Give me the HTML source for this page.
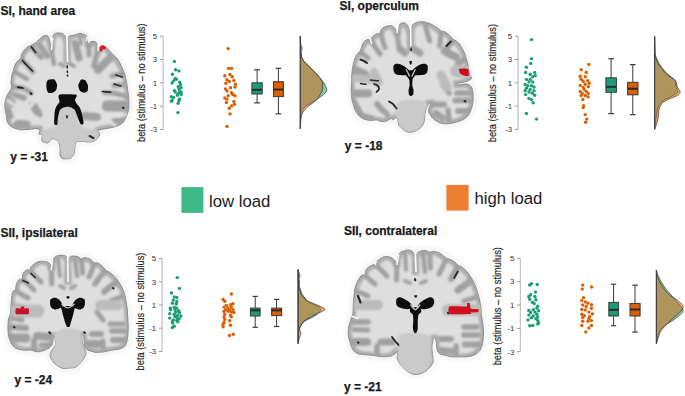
<!DOCTYPE html>
<html><head><meta charset="utf-8"><style>
html,body{margin:0;padding:0;background:#fff;width:685px;height:396px;overflow:hidden}
svg{position:absolute;left:0;top:0;font-family:"Liberation Sans",sans-serif}
.t{position:absolute;font-family:"Liberation Sans",sans-serif;white-space:nowrap;color:#1a1a1a;line-height:1}
.b{font-weight:bold;font-size:12px}
</style></head><body>
<svg width="685" height="396" viewBox="0 0 685 396">
<defs>
<filter id="erode" filterUnits="userSpaceOnUse" x="0" y="0" width="685" height="396"><feMorphology operator="erode" radius="2.6"/><feGaussianBlur stdDeviation="1.2"/></filter>
<filter id="soft" filterUnits="userSpaceOnUse" x="0" y="0" width="685" height="396"><feGaussianBlur stdDeviation="0.5"/></filter>
<filter id="soft2" filterUnits="userSpaceOnUse" x="0" y="0" width="685" height="396"><feGaussianBlur stdDeviation="0.85"/></filter>
<filter id="soft3" filterUnits="userSpaceOnUse" x="0" y="0" width="685" height="396"><feGaussianBlur stdDeviation="1.6"/></filter>
</defs>
<clipPath id="cp0"><path d="M66.5,61.0 C66.3,59.5 66.5,52.5 66.5,50.0 C66.5,47.5 66.6,43.6 66.5,42.0 C66.4,40.4 66.3,39.0 66.0,38.0 C65.7,37.0 64.8,35.4 64.0,34.7 C63.2,34.0 60.9,33.2 59.8,33.0 C58.7,32.8 56.6,33.0 55.7,33.3 C54.8,33.6 53.7,34.5 53.2,35.5 C52.7,36.5 52.5,38.8 52.3,40.5 C52.1,42.2 51.8,47.9 51.5,48.0 C51.2,48.1 50.2,42.9 49.8,41.3 C49.4,39.7 48.9,37.1 48.2,36.3 C47.5,35.5 45.7,35.4 44.8,35.5 C43.9,35.6 42.3,36.6 41.5,37.2 C40.7,37.8 39.7,39.0 39.0,39.7 C38.3,40.4 37.2,41.7 36.5,42.2 C35.8,42.7 34.8,43.4 34.0,43.8 C33.2,44.2 31.6,45.0 30.7,45.5 C29.8,46.0 28.2,46.5 27.3,47.2 C26.4,47.9 24.8,49.5 24.0,50.5 C23.2,51.5 21.9,53.6 21.5,54.7 C21.1,55.8 21.1,58.0 20.7,58.8 C20.3,59.6 18.9,59.8 18.2,60.5 C17.5,61.2 16.3,62.8 15.7,63.8 C15.1,64.8 14.3,67.0 14.0,68.0 C13.7,69.0 13.5,70.5 13.2,71.3 C12.9,72.1 12.2,72.9 12.0,73.8 C11.8,74.7 11.6,76.8 11.5,78.0 C11.4,79.2 11.0,81.9 11.0,83.0 C11.0,84.1 11.5,85.4 11.5,86.3 C11.5,87.2 11.1,88.8 10.7,89.7 C10.3,90.6 9.0,92.3 8.5,93.0 C8.0,93.7 7.5,94.3 7.1,95.3 C6.7,96.3 5.6,98.9 5.3,100.6 C5.0,102.3 4.8,105.8 4.9,107.7 C5.0,109.6 5.9,112.9 6.2,114.7 C6.5,116.5 6.6,119.5 7.1,120.9 C7.6,122.3 8.8,124.5 9.7,125.4 C10.6,126.3 12.6,127.4 14.1,128.0 C15.6,128.6 19.1,129.6 21.2,129.8 C23.3,130.0 27.9,129.4 30.0,129.2 C32.1,129.0 35.8,128.3 37.1,128.5 C38.4,128.7 39.6,129.9 39.8,130.7 C40.0,131.5 38.6,133.6 38.9,134.2 C39.2,134.8 42.1,134.4 42.4,135.1 C42.7,135.8 41.4,138.6 41.5,139.5 C41.6,140.4 42.5,141.6 43.3,142.1 C44.1,142.6 46.8,143.2 47.7,143.0 C48.6,142.8 49.7,141.0 50.4,140.4 C51.1,139.8 51.9,138.5 53.0,138.6 C54.1,138.7 57.4,140.0 58.3,141.3 C59.2,142.6 59.9,146.5 60.1,148.3 C60.3,150.1 59.8,153.7 60.1,155.0 C60.4,156.3 61.3,157.8 62.0,158.3 C62.7,158.8 64.2,158.9 65.3,158.9 C66.4,158.9 69.4,158.8 70.6,158.1 C71.8,157.4 73.5,155.1 74.1,153.6 C74.7,152.1 74.8,148.1 75.0,146.6 C75.2,145.1 74.8,142.8 75.9,142.1 C77.0,141.4 81.3,141.3 83.0,141.3 C84.7,141.3 86.9,142.1 88.3,142.1 C89.7,142.1 92.4,141.8 93.6,141.3 C94.8,140.8 96.3,139.5 97.1,138.6 C97.9,137.7 99.7,135.3 99.8,134.2 C99.9,133.1 97.7,131.4 98.0,130.7 C98.3,130.0 100.9,129.6 102.4,129.2 C103.9,128.8 107.6,128.4 109.5,128.0 C111.4,127.6 114.8,126.9 116.6,126.2 C118.4,125.5 121.5,124.0 122.8,122.7 C124.1,121.4 125.5,118.3 126.3,116.5 C127.1,114.7 128.3,111.5 128.6,109.4 C128.9,107.3 128.9,102.5 128.9,100.6 C128.9,98.7 128.7,96.2 128.6,95.0 C128.5,93.8 128.0,92.7 127.8,91.3 C127.6,89.9 127.3,86.5 127.0,84.7 C126.7,82.9 126.1,79.6 125.7,78.0 C125.3,76.4 124.8,74.3 124.3,73.0 C123.8,71.7 122.9,69.3 122.3,68.0 C121.7,66.7 120.5,64.2 119.8,63.0 C119.1,61.8 118.1,59.8 117.3,58.8 C116.5,57.8 114.9,56.4 114.0,55.5 C113.1,54.6 111.5,53.1 110.7,52.2 C109.9,51.3 108.5,49.6 107.7,48.8 C106.9,48.0 105.6,46.7 104.8,46.3 C104.0,45.9 102.2,45.4 101.5,45.5 C100.8,45.6 100.2,46.6 99.8,47.2 C99.4,47.8 98.5,50.0 98.2,49.7 C97.9,49.4 97.6,45.7 97.3,44.7 C97.0,43.7 96.4,42.7 95.7,42.2 C95.0,41.7 93.1,41.3 92.3,41.3 C91.5,41.3 90.5,42.0 90.0,42.5 C89.5,43.0 88.8,45.3 88.5,45.0 C88.2,44.7 87.6,41.3 87.5,40.5 C87.4,39.7 87.7,39.3 87.7,38.8 C87.7,38.3 87.7,37.2 87.3,36.7 C86.9,36.2 85.7,35.2 84.8,34.7 C83.9,34.2 81.6,33.4 80.7,33.3 C79.8,33.2 79.0,33.6 78.2,33.8 C77.4,34.0 75.8,34.8 74.8,35.0 C73.8,35.2 71.6,35.2 70.7,35.5 C69.8,35.8 68.6,36.3 68.2,37.2 C67.8,38.1 67.9,40.3 67.8,42.0 C67.7,43.7 67.8,47.5 67.8,50.0 C67.8,52.5 68.0,59.5 67.8,61.0 C67.6,62.5 66.7,62.5 66.5,61.0 Z"/></clipPath>
<path d="M66.5,61.0 C66.3,59.5 66.5,52.5 66.5,50.0 C66.5,47.5 66.6,43.6 66.5,42.0 C66.4,40.4 66.3,39.0 66.0,38.0 C65.7,37.0 64.8,35.4 64.0,34.7 C63.2,34.0 60.9,33.2 59.8,33.0 C58.7,32.8 56.6,33.0 55.7,33.3 C54.8,33.6 53.7,34.5 53.2,35.5 C52.7,36.5 52.5,38.8 52.3,40.5 C52.1,42.2 51.8,47.9 51.5,48.0 C51.2,48.1 50.2,42.9 49.8,41.3 C49.4,39.7 48.9,37.1 48.2,36.3 C47.5,35.5 45.7,35.4 44.8,35.5 C43.9,35.6 42.3,36.6 41.5,37.2 C40.7,37.8 39.7,39.0 39.0,39.7 C38.3,40.4 37.2,41.7 36.5,42.2 C35.8,42.7 34.8,43.4 34.0,43.8 C33.2,44.2 31.6,45.0 30.7,45.5 C29.8,46.0 28.2,46.5 27.3,47.2 C26.4,47.9 24.8,49.5 24.0,50.5 C23.2,51.5 21.9,53.6 21.5,54.7 C21.1,55.8 21.1,58.0 20.7,58.8 C20.3,59.6 18.9,59.8 18.2,60.5 C17.5,61.2 16.3,62.8 15.7,63.8 C15.1,64.8 14.3,67.0 14.0,68.0 C13.7,69.0 13.5,70.5 13.2,71.3 C12.9,72.1 12.2,72.9 12.0,73.8 C11.8,74.7 11.6,76.8 11.5,78.0 C11.4,79.2 11.0,81.9 11.0,83.0 C11.0,84.1 11.5,85.4 11.5,86.3 C11.5,87.2 11.1,88.8 10.7,89.7 C10.3,90.6 9.0,92.3 8.5,93.0 C8.0,93.7 7.5,94.3 7.1,95.3 C6.7,96.3 5.6,98.9 5.3,100.6 C5.0,102.3 4.8,105.8 4.9,107.7 C5.0,109.6 5.9,112.9 6.2,114.7 C6.5,116.5 6.6,119.5 7.1,120.9 C7.6,122.3 8.8,124.5 9.7,125.4 C10.6,126.3 12.6,127.4 14.1,128.0 C15.6,128.6 19.1,129.6 21.2,129.8 C23.3,130.0 27.9,129.4 30.0,129.2 C32.1,129.0 35.8,128.3 37.1,128.5 C38.4,128.7 39.6,129.9 39.8,130.7 C40.0,131.5 38.6,133.6 38.9,134.2 C39.2,134.8 42.1,134.4 42.4,135.1 C42.7,135.8 41.4,138.6 41.5,139.5 C41.6,140.4 42.5,141.6 43.3,142.1 C44.1,142.6 46.8,143.2 47.7,143.0 C48.6,142.8 49.7,141.0 50.4,140.4 C51.1,139.8 51.9,138.5 53.0,138.6 C54.1,138.7 57.4,140.0 58.3,141.3 C59.2,142.6 59.9,146.5 60.1,148.3 C60.3,150.1 59.8,153.7 60.1,155.0 C60.4,156.3 61.3,157.8 62.0,158.3 C62.7,158.8 64.2,158.9 65.3,158.9 C66.4,158.9 69.4,158.8 70.6,158.1 C71.8,157.4 73.5,155.1 74.1,153.6 C74.7,152.1 74.8,148.1 75.0,146.6 C75.2,145.1 74.8,142.8 75.9,142.1 C77.0,141.4 81.3,141.3 83.0,141.3 C84.7,141.3 86.9,142.1 88.3,142.1 C89.7,142.1 92.4,141.8 93.6,141.3 C94.8,140.8 96.3,139.5 97.1,138.6 C97.9,137.7 99.7,135.3 99.8,134.2 C99.9,133.1 97.7,131.4 98.0,130.7 C98.3,130.0 100.9,129.6 102.4,129.2 C103.9,128.8 107.6,128.4 109.5,128.0 C111.4,127.6 114.8,126.9 116.6,126.2 C118.4,125.5 121.5,124.0 122.8,122.7 C124.1,121.4 125.5,118.3 126.3,116.5 C127.1,114.7 128.3,111.5 128.6,109.4 C128.9,107.3 128.9,102.5 128.9,100.6 C128.9,98.7 128.7,96.2 128.6,95.0 C128.5,93.8 128.0,92.7 127.8,91.3 C127.6,89.9 127.3,86.5 127.0,84.7 C126.7,82.9 126.1,79.6 125.7,78.0 C125.3,76.4 124.8,74.3 124.3,73.0 C123.8,71.7 122.9,69.3 122.3,68.0 C121.7,66.7 120.5,64.2 119.8,63.0 C119.1,61.8 118.1,59.8 117.3,58.8 C116.5,57.8 114.9,56.4 114.0,55.5 C113.1,54.6 111.5,53.1 110.7,52.2 C109.9,51.3 108.5,49.6 107.7,48.8 C106.9,48.0 105.6,46.7 104.8,46.3 C104.0,45.9 102.2,45.4 101.5,45.5 C100.8,45.6 100.2,46.6 99.8,47.2 C99.4,47.8 98.5,50.0 98.2,49.7 C97.9,49.4 97.6,45.7 97.3,44.7 C97.0,43.7 96.4,42.7 95.7,42.2 C95.0,41.7 93.1,41.3 92.3,41.3 C91.5,41.3 90.5,42.0 90.0,42.5 C89.5,43.0 88.8,45.3 88.5,45.0 C88.2,44.7 87.6,41.3 87.5,40.5 C87.4,39.7 87.7,39.3 87.7,38.8 C87.7,38.3 87.7,37.2 87.3,36.7 C86.9,36.2 85.7,35.2 84.8,34.7 C83.9,34.2 81.6,33.4 80.7,33.3 C79.8,33.2 79.0,33.6 78.2,33.8 C77.4,34.0 75.8,34.8 74.8,35.0 C73.8,35.2 71.6,35.2 70.7,35.5 C69.8,35.8 68.6,36.3 68.2,37.2 C67.8,38.1 67.9,40.3 67.8,42.0 C67.7,43.7 67.8,47.5 67.8,50.0 C67.8,52.5 68.0,59.5 67.8,61.0 C67.6,62.5 66.7,62.5 66.5,61.0 Z" fill="none" stroke="#f6f6f6" stroke-width="9" filter="url(#soft3)"/>
<path d="M66.5,61.0 C66.3,59.5 66.5,52.5 66.5,50.0 C66.5,47.5 66.6,43.6 66.5,42.0 C66.4,40.4 66.3,39.0 66.0,38.0 C65.7,37.0 64.8,35.4 64.0,34.7 C63.2,34.0 60.9,33.2 59.8,33.0 C58.7,32.8 56.6,33.0 55.7,33.3 C54.8,33.6 53.7,34.5 53.2,35.5 C52.7,36.5 52.5,38.8 52.3,40.5 C52.1,42.2 51.8,47.9 51.5,48.0 C51.2,48.1 50.2,42.9 49.8,41.3 C49.4,39.7 48.9,37.1 48.2,36.3 C47.5,35.5 45.7,35.4 44.8,35.5 C43.9,35.6 42.3,36.6 41.5,37.2 C40.7,37.8 39.7,39.0 39.0,39.7 C38.3,40.4 37.2,41.7 36.5,42.2 C35.8,42.7 34.8,43.4 34.0,43.8 C33.2,44.2 31.6,45.0 30.7,45.5 C29.8,46.0 28.2,46.5 27.3,47.2 C26.4,47.9 24.8,49.5 24.0,50.5 C23.2,51.5 21.9,53.6 21.5,54.7 C21.1,55.8 21.1,58.0 20.7,58.8 C20.3,59.6 18.9,59.8 18.2,60.5 C17.5,61.2 16.3,62.8 15.7,63.8 C15.1,64.8 14.3,67.0 14.0,68.0 C13.7,69.0 13.5,70.5 13.2,71.3 C12.9,72.1 12.2,72.9 12.0,73.8 C11.8,74.7 11.6,76.8 11.5,78.0 C11.4,79.2 11.0,81.9 11.0,83.0 C11.0,84.1 11.5,85.4 11.5,86.3 C11.5,87.2 11.1,88.8 10.7,89.7 C10.3,90.6 9.0,92.3 8.5,93.0 C8.0,93.7 7.5,94.3 7.1,95.3 C6.7,96.3 5.6,98.9 5.3,100.6 C5.0,102.3 4.8,105.8 4.9,107.7 C5.0,109.6 5.9,112.9 6.2,114.7 C6.5,116.5 6.6,119.5 7.1,120.9 C7.6,122.3 8.8,124.5 9.7,125.4 C10.6,126.3 12.6,127.4 14.1,128.0 C15.6,128.6 19.1,129.6 21.2,129.8 C23.3,130.0 27.9,129.4 30.0,129.2 C32.1,129.0 35.8,128.3 37.1,128.5 C38.4,128.7 39.6,129.9 39.8,130.7 C40.0,131.5 38.6,133.6 38.9,134.2 C39.2,134.8 42.1,134.4 42.4,135.1 C42.7,135.8 41.4,138.6 41.5,139.5 C41.6,140.4 42.5,141.6 43.3,142.1 C44.1,142.6 46.8,143.2 47.7,143.0 C48.6,142.8 49.7,141.0 50.4,140.4 C51.1,139.8 51.9,138.5 53.0,138.6 C54.1,138.7 57.4,140.0 58.3,141.3 C59.2,142.6 59.9,146.5 60.1,148.3 C60.3,150.1 59.8,153.7 60.1,155.0 C60.4,156.3 61.3,157.8 62.0,158.3 C62.7,158.8 64.2,158.9 65.3,158.9 C66.4,158.9 69.4,158.8 70.6,158.1 C71.8,157.4 73.5,155.1 74.1,153.6 C74.7,152.1 74.8,148.1 75.0,146.6 C75.2,145.1 74.8,142.8 75.9,142.1 C77.0,141.4 81.3,141.3 83.0,141.3 C84.7,141.3 86.9,142.1 88.3,142.1 C89.7,142.1 92.4,141.8 93.6,141.3 C94.8,140.8 96.3,139.5 97.1,138.6 C97.9,137.7 99.7,135.3 99.8,134.2 C99.9,133.1 97.7,131.4 98.0,130.7 C98.3,130.0 100.9,129.6 102.4,129.2 C103.9,128.8 107.6,128.4 109.5,128.0 C111.4,127.6 114.8,126.9 116.6,126.2 C118.4,125.5 121.5,124.0 122.8,122.7 C124.1,121.4 125.5,118.3 126.3,116.5 C127.1,114.7 128.3,111.5 128.6,109.4 C128.9,107.3 128.9,102.5 128.9,100.6 C128.9,98.7 128.7,96.2 128.6,95.0 C128.5,93.8 128.0,92.7 127.8,91.3 C127.6,89.9 127.3,86.5 127.0,84.7 C126.7,82.9 126.1,79.6 125.7,78.0 C125.3,76.4 124.8,74.3 124.3,73.0 C123.8,71.7 122.9,69.3 122.3,68.0 C121.7,66.7 120.5,64.2 119.8,63.0 C119.1,61.8 118.1,59.8 117.3,58.8 C116.5,57.8 114.9,56.4 114.0,55.5 C113.1,54.6 111.5,53.1 110.7,52.2 C109.9,51.3 108.5,49.6 107.7,48.8 C106.9,48.0 105.6,46.7 104.8,46.3 C104.0,45.9 102.2,45.4 101.5,45.5 C100.8,45.6 100.2,46.6 99.8,47.2 C99.4,47.8 98.5,50.0 98.2,49.7 C97.9,49.4 97.6,45.7 97.3,44.7 C97.0,43.7 96.4,42.7 95.7,42.2 C95.0,41.7 93.1,41.3 92.3,41.3 C91.5,41.3 90.5,42.0 90.0,42.5 C89.5,43.0 88.8,45.3 88.5,45.0 C88.2,44.7 87.6,41.3 87.5,40.5 C87.4,39.7 87.7,39.3 87.7,38.8 C87.7,38.3 87.7,37.2 87.3,36.7 C86.9,36.2 85.7,35.2 84.8,34.7 C83.9,34.2 81.6,33.4 80.7,33.3 C79.8,33.2 79.0,33.6 78.2,33.8 C77.4,34.0 75.8,34.8 74.8,35.0 C73.8,35.2 71.6,35.2 70.7,35.5 C69.8,35.8 68.6,36.3 68.2,37.2 C67.8,38.1 67.9,40.3 67.8,42.0 C67.7,43.7 67.8,47.5 67.8,50.0 C67.8,52.5 68.0,59.5 67.8,61.0 C67.6,62.5 66.7,62.5 66.5,61.0 Z" fill="#adadad" stroke="#8a8a8a" stroke-width="1" filter="url(#soft)"/>
<g clip-path="url(#cp0)">
<path d="M66.5,61.0 C66.3,59.5 66.5,52.5 66.5,50.0 C66.5,47.5 66.6,43.6 66.5,42.0 C66.4,40.4 66.3,39.0 66.0,38.0 C65.7,37.0 64.8,35.4 64.0,34.7 C63.2,34.0 60.9,33.2 59.8,33.0 C58.7,32.8 56.6,33.0 55.7,33.3 C54.8,33.6 53.7,34.5 53.2,35.5 C52.7,36.5 52.5,38.8 52.3,40.5 C52.1,42.2 51.8,47.9 51.5,48.0 C51.2,48.1 50.2,42.9 49.8,41.3 C49.4,39.7 48.9,37.1 48.2,36.3 C47.5,35.5 45.7,35.4 44.8,35.5 C43.9,35.6 42.3,36.6 41.5,37.2 C40.7,37.8 39.7,39.0 39.0,39.7 C38.3,40.4 37.2,41.7 36.5,42.2 C35.8,42.7 34.8,43.4 34.0,43.8 C33.2,44.2 31.6,45.0 30.7,45.5 C29.8,46.0 28.2,46.5 27.3,47.2 C26.4,47.9 24.8,49.5 24.0,50.5 C23.2,51.5 21.9,53.6 21.5,54.7 C21.1,55.8 21.1,58.0 20.7,58.8 C20.3,59.6 18.9,59.8 18.2,60.5 C17.5,61.2 16.3,62.8 15.7,63.8 C15.1,64.8 14.3,67.0 14.0,68.0 C13.7,69.0 13.5,70.5 13.2,71.3 C12.9,72.1 12.2,72.9 12.0,73.8 C11.8,74.7 11.6,76.8 11.5,78.0 C11.4,79.2 11.0,81.9 11.0,83.0 C11.0,84.1 11.5,85.4 11.5,86.3 C11.5,87.2 11.1,88.8 10.7,89.7 C10.3,90.6 9.0,92.3 8.5,93.0 C8.0,93.7 7.5,94.3 7.1,95.3 C6.7,96.3 5.6,98.9 5.3,100.6 C5.0,102.3 4.8,105.8 4.9,107.7 C5.0,109.6 5.9,112.9 6.2,114.7 C6.5,116.5 6.6,119.5 7.1,120.9 C7.6,122.3 8.8,124.5 9.7,125.4 C10.6,126.3 12.6,127.4 14.1,128.0 C15.6,128.6 19.1,129.6 21.2,129.8 C23.3,130.0 27.9,129.4 30.0,129.2 C32.1,129.0 35.8,128.3 37.1,128.5 C38.4,128.7 39.6,129.9 39.8,130.7 C40.0,131.5 38.6,133.6 38.9,134.2 C39.2,134.8 42.1,134.4 42.4,135.1 C42.7,135.8 41.4,138.6 41.5,139.5 C41.6,140.4 42.5,141.6 43.3,142.1 C44.1,142.6 46.8,143.2 47.7,143.0 C48.6,142.8 49.7,141.0 50.4,140.4 C51.1,139.8 51.9,138.5 53.0,138.6 C54.1,138.7 57.4,140.0 58.3,141.3 C59.2,142.6 59.9,146.5 60.1,148.3 C60.3,150.1 59.8,153.7 60.1,155.0 C60.4,156.3 61.3,157.8 62.0,158.3 C62.7,158.8 64.2,158.9 65.3,158.9 C66.4,158.9 69.4,158.8 70.6,158.1 C71.8,157.4 73.5,155.1 74.1,153.6 C74.7,152.1 74.8,148.1 75.0,146.6 C75.2,145.1 74.8,142.8 75.9,142.1 C77.0,141.4 81.3,141.3 83.0,141.3 C84.7,141.3 86.9,142.1 88.3,142.1 C89.7,142.1 92.4,141.8 93.6,141.3 C94.8,140.8 96.3,139.5 97.1,138.6 C97.9,137.7 99.7,135.3 99.8,134.2 C99.9,133.1 97.7,131.4 98.0,130.7 C98.3,130.0 100.9,129.6 102.4,129.2 C103.9,128.8 107.6,128.4 109.5,128.0 C111.4,127.6 114.8,126.9 116.6,126.2 C118.4,125.5 121.5,124.0 122.8,122.7 C124.1,121.4 125.5,118.3 126.3,116.5 C127.1,114.7 128.3,111.5 128.6,109.4 C128.9,107.3 128.9,102.5 128.9,100.6 C128.9,98.7 128.7,96.2 128.6,95.0 C128.5,93.8 128.0,92.7 127.8,91.3 C127.6,89.9 127.3,86.5 127.0,84.7 C126.7,82.9 126.1,79.6 125.7,78.0 C125.3,76.4 124.8,74.3 124.3,73.0 C123.8,71.7 122.9,69.3 122.3,68.0 C121.7,66.7 120.5,64.2 119.8,63.0 C119.1,61.8 118.1,59.8 117.3,58.8 C116.5,57.8 114.9,56.4 114.0,55.5 C113.1,54.6 111.5,53.1 110.7,52.2 C109.9,51.3 108.5,49.6 107.7,48.8 C106.9,48.0 105.6,46.7 104.8,46.3 C104.0,45.9 102.2,45.4 101.5,45.5 C100.8,45.6 100.2,46.6 99.8,47.2 C99.4,47.8 98.5,50.0 98.2,49.7 C97.9,49.4 97.6,45.7 97.3,44.7 C97.0,43.7 96.4,42.7 95.7,42.2 C95.0,41.7 93.1,41.3 92.3,41.3 C91.5,41.3 90.5,42.0 90.0,42.5 C89.5,43.0 88.8,45.3 88.5,45.0 C88.2,44.7 87.6,41.3 87.5,40.5 C87.4,39.7 87.7,39.3 87.7,38.8 C87.7,38.3 87.7,37.2 87.3,36.7 C86.9,36.2 85.7,35.2 84.8,34.7 C83.9,34.2 81.6,33.4 80.7,33.3 C79.8,33.2 79.0,33.6 78.2,33.8 C77.4,34.0 75.8,34.8 74.8,35.0 C73.8,35.2 71.6,35.2 70.7,35.5 C69.8,35.8 68.6,36.3 68.2,37.2 C67.8,38.1 67.9,40.3 67.8,42.0 C67.7,43.7 67.8,47.5 67.8,50.0 C67.8,52.5 68.0,59.5 67.8,61.0 C67.6,62.5 66.7,62.5 66.5,61.0 Z" fill="#dedede" filter="url(#erode)"/>
<g filter="url(#soft3)">
</g><g filter="url(#soft2)" fill="none" stroke-linecap="round" stroke-linejoin="round">
<path d="M7.0,99.0 C7.8,99.7 11.2,102.3 12.0,103.0 " stroke="#a0a0a0" stroke-width="8"/>
<path d="M7.0,110.0 C7.5,111.3 9.5,116.7 10.0,118.0 " stroke="#a0a0a0" stroke-width="8"/>
<path d="M17.0,123.5 C18.7,123.7 25.3,124.3 27.0,124.5 " stroke="#a0a0a0" stroke-width="7.5"/>
<path d="M33.0,105.0 C33.9,106.5 37.6,112.5 38.5,114.0 " stroke="#a0a0a0" stroke-width="8"/>
<path d="M15.0,95.0 C16.5,95.5 22.5,97.5 24.0,98.0 " stroke="#a0a0a0" stroke-width="6"/>
<path d="M107.0,106.0 C109.8,106.0 121.2,106.0 124.0,106.0 " stroke="#a0a0a0" stroke-width="11"/>
<path d="M85.0,116.0 C87.0,116.2 95.0,116.8 97.0,117.0 " stroke="#a0a0a0" stroke-width="8"/>
<path d="M114.0,121.0 C115.7,121.0 122.3,121.0 124.0,121.0 " stroke="#a0a0a0" stroke-width="6"/>
<path d="M51.5,48.0 C51.7,49.3 52.1,53.3 52.5,56.0 C52.9,58.7 53.8,62.7 54.0,64.0 " stroke="#a0a0a0" stroke-width="4.5"/>
<path d="M30.7,45.5 C31.6,46.6 34.3,50.1 36.0,52.0 C37.7,53.9 40.2,56.2 41.0,57.0 " stroke="#a0a0a0" stroke-width="5.5"/>
<path d="M40.0,46.0 C40.7,46.8 42.8,49.3 44.0,51.0 C45.2,52.7 46.5,55.2 47.0,56.0 " stroke="#a0a0a0" stroke-width="6"/>
<path d="M20.7,58.8 C21.8,59.8 24.9,62.8 27.0,65.0 C29.1,67.2 32.0,70.8 33.0,72.0 " stroke="#a0a0a0" stroke-width="5"/>
<path d="M13.2,71.3 C14.3,71.9 17.7,73.7 20.0,75.0 C22.3,76.3 25.8,78.3 27.0,79.0 " stroke="#a0a0a0" stroke-width="4.5"/>
<path d="M11.5,86.3 C12.4,86.5 14.9,87.1 17.0,87.5 C19.1,87.9 21.7,87.6 24.0,88.5 C26.3,89.4 29.8,92.2 31.0,93.0 " stroke="#a0a0a0" stroke-width="5"/>
<path d="M88.5,45.0 C88.6,45.8 88.9,48.3 89.0,50.0 C89.1,51.7 89.0,54.2 89.0,55.0 " stroke="#a0a0a0" stroke-width="5"/>
<path d="M98.2,49.7 C97.8,51.1 96.7,55.3 96.0,58.0 C95.3,60.7 94.3,64.7 94.0,66.0 " stroke="#a0a0a0" stroke-width="5.5"/>
<path d="M110.0,58.0 C109.0,59.0 106.0,62.0 104.0,64.0 C102.0,66.0 99.0,69.0 98.0,70.0 " stroke="#a0a0a0" stroke-width="8"/>
<path d="M124.3,73.0 C123.2,73.2 120.0,74.0 118.0,74.5 C116.0,75.0 113.0,75.8 112.0,76.0 " stroke="#a0a0a0" stroke-width="5"/>
<path d="M127.0,84.7 C126.0,84.8 123.2,84.9 121.0,85.0 C118.8,85.1 115.2,85.4 114.0,85.5 " stroke="#a0a0a0" stroke-width="5"/>
<path d="M128.0,97.0 C126.3,96.5 121.8,94.8 118.0,94.0 C114.2,93.2 107.2,92.8 105.0,92.5 " stroke="#a0a0a0" stroke-width="5"/>
<path d="M75.0,43.0 C75.3,44.2 76.3,47.5 77.0,50.0 C77.7,52.5 78.7,56.7 79.0,58.0 " stroke="#a0a0a0" stroke-width="7"/>
<path d="M80.0,36.0 C80.2,37.3 80.8,42.7 81.0,44.0 " stroke="#a0a0a0" stroke-width="4"/>
<path d="M60.0,64.0 C60.7,64.3 63.3,65.7 64.0,66.0 " stroke="#a0a0a0" stroke-width="4"/>
<path d="M70.0,64.0 C70.7,64.3 73.3,65.7 74.0,66.0 " stroke="#a0a0a0" stroke-width="4"/>
<path d="M67.0,36.0 C67.0,37.5 67.0,41.8 67.1,45.0 C67.1,48.2 67.2,52.2 67.3,55.0 C67.3,57.8 67.4,60.8 67.4,62.0 " stroke="#b2b2b2" stroke-width="4.5"/>
<path d="M7.8,100.8 C10.7,102.5 19.7,108.0 25.3,111.3 C30.9,114.6 38.8,119.0 41.5,120.6 " stroke="#e0e0e0" stroke-width="3.4"/>
<path d="M12.5,120.6 C14.6,119.0 20.7,115.6 25.3,111.3 C29.9,107.0 37.9,97.7 40.4,95.0 " stroke="#e0e0e0" stroke-width="3.4"/>
<path d="M82.3,93.8 C85.8,97.3 97.9,109.5 103.3,114.7 C108.7,119.9 113.0,123.5 114.9,125.2 " stroke="#e0e0e0" stroke-width="3.2"/>
<path d="M103.3,115.9 C105.2,115.8 111.1,115.7 115.0,115.5 C118.9,115.3 124.6,114.8 126.5,114.7 " stroke="#e0e0e0" stroke-width="3"/>
<path d="M91.6,88.0 C93.1,90.9 99.4,102.5 100.9,105.4 " stroke="#e0e0e0" stroke-width="3"/>
</g><g filter="url(#soft2)">
<path d="M58.0,105.0 C59.8,101.3 64.0,102.8 67.0,103.0 C70.0,103.2 74.0,102.5 76.0,106.0 C78.0,109.5 77.3,120.3 79.0,124.0 C80.7,127.7 83.2,127.0 86.0,128.0 C88.8,129.0 93.8,129.0 96.0,130.0 C98.2,131.0 98.8,132.5 99.0,134.0 C99.2,135.5 98.2,137.7 97.0,139.0 C95.8,140.3 94.2,141.5 92.0,142.0 C89.8,142.5 86.5,141.8 84.0,142.0 C81.5,142.2 78.4,141.7 77.0,143.0 C75.6,144.3 76.3,147.6 75.5,150.0 C74.7,152.4 74.1,156.2 72.0,157.5 C69.9,158.8 65.0,159.2 63.0,158.0 C61.0,156.8 60.7,152.5 60.0,150.0 C59.3,147.5 60.3,144.3 59.0,143.0 C57.7,141.7 54.3,142.2 52.0,142.0 C49.7,141.8 46.8,142.7 45.0,142.0 C43.2,141.3 41.7,139.7 41.0,138.0 C40.3,136.3 39.8,133.7 41.0,132.0 C42.2,130.3 45.5,129.2 48.0,128.0 C50.5,126.8 54.3,128.8 56.0,125.0 C57.7,121.2 56.2,108.7 58.0,105.0 Z" fill="#cacaca"/>
</g>
<g fill="none" stroke="#2a2a2a" stroke-linecap="round" filter="url(#soft)">
<path d="M31.5,47.0 C32.2,47.9 34.8,51.6 35.5,52.5 " stroke-width="1.8"/>
<path d="M22.5,60.5 C23.2,61.3 25.3,63.8 27.0,65.5 C28.7,67.2 31.6,70.1 32.5,71.0 " stroke-width="1.7"/>
<path d="M17.7,87.2 C18.6,87.3 22.1,87.9 23.0,88.1 " stroke-width="1.9"/>
<path d="M30.5,93.0 C30.7,93.2 31.3,93.8 31.5,94.0 " stroke-width="2"/>
<path d="M115.7,75.0 C116.8,75.3 121.2,76.7 122.3,77.0 " stroke-width="1.7"/>
<path d="M114.0,84.0 C115.1,84.3 119.6,85.7 120.7,86.0 " stroke-width="1.7"/>
<path d="M102.3,91.5 C103.7,91.6 109.3,92.1 110.7,92.2 " stroke-width="1.7"/>
<path d="M67.2,66.0 C67.2,66.3 67.3,67.7 67.3,68.0 " stroke-width="1.6"/>
<path d="M67.3,71.0 C67.3,71.2 67.4,72.2 67.4,72.5 " stroke-width="1.6"/>
<path d="M67.5,75.0 C67.5,75.2 67.5,75.8 67.5,76.0 " stroke-width="1.6"/>
<path d="M89.5,136.0 C90.2,136.3 92.8,137.7 93.5,138.0 " stroke-width="2"/>
<path d="M123.0,107.6 C123.1,107.7 123.4,107.9 123.5,108.0 " stroke-width="2"/>
<path d="M67.0,116.0 C67.0,116.2 67.0,117.2 67.0,117.5 " stroke-width="1.8"/>
<path d="M46.0,82.0 C45.7,81.7 44.3,80.3 44.0,80.0 " stroke-width="0.1"/>
</g>
</g>
<path d="M67.0,36.0 C67.0,37.5 67.0,41.8 67.1,45.0 C67.1,48.2 67.2,52.2 67.3,55.0 C67.3,57.8 67.4,60.8 67.4,62.0 " stroke="#fdfdfd" stroke-width="1.6" fill="none" filter="url(#soft)"/>
<path d="M52.6,38.0 C52.5,39.0 52.2,42.1 52.0,44.0 C51.8,45.9 51.7,48.6 51.6,49.5 " stroke="#fbfbfb" stroke-width="1.5" stroke-linecap="round" fill="none" filter="url(#soft)"/>
<path d="M98.3,44.0 C98.2,45.1 98.0,49.5 98.0,50.6 " stroke="#fbfbfb" stroke-width="1.5" stroke-linecap="round" fill="none" filter="url(#soft)"/>
<path d="M87.2,37.0 C87.1,37.6 86.7,39.9 86.6,40.5 " stroke="#fbfbfb" stroke-width="1.5" stroke-linecap="round" fill="none" filter="url(#soft)"/>
<path d="M48.2,79.8 C49.0,79.4 53.5,78.9 54.4,79.4 C55.3,79.9 56.9,83.6 57.1,84.7 C57.3,85.8 56.6,89.2 56.2,90.0 C55.8,90.8 53.5,92.4 52.7,92.7 C51.9,93.0 48.8,93.1 48.2,92.7 C47.6,92.3 46.7,89.3 46.5,88.3 C46.3,87.3 46.3,83.8 46.5,83.0 C46.7,82.2 47.4,80.2 48.2,79.8 Z" fill="#0c0c0c" filter="url(#soft)"/>
<path d="M80.9,79.8 C81.6,79.3 84.6,79.7 85.3,80.3 C86.0,80.9 87.8,84.5 88.0,85.6 C88.2,86.7 87.9,90.2 87.6,90.9 C87.2,91.6 85.3,92.7 84.5,92.7 C83.7,92.7 80.6,91.6 80.0,90.9 C79.4,90.2 78.2,86.7 78.3,85.6 C78.4,84.5 80.2,80.3 80.9,79.8 Z" fill="#0c0c0c" filter="url(#soft)"/>
<path d="M59.2,94.8 C60.9,94.1 74.6,94.3 76.2,94.8 C77.8,95.3 75.0,99.1 75.0,100.0 C75.0,100.9 76.0,102.8 76.5,103.5 C77.0,104.2 79.0,106.2 79.5,107.0 C80.0,107.8 81.2,110.9 81.5,112.0 C81.8,113.1 82.6,116.8 82.8,118.0 C83.0,119.2 83.8,122.9 83.6,123.5 C83.4,124.1 81.3,124.8 80.8,124.3 C80.3,123.8 78.8,120.1 78.3,119.0 C77.8,117.9 76.7,114.5 76.3,113.5 C75.9,112.5 75.0,110.1 74.5,109.5 C74.0,108.9 71.7,107.8 71.0,107.5 C70.3,107.2 68.5,106.8 67.7,106.8 C67.0,106.8 64.2,107.2 63.5,107.5 C62.8,107.8 60.8,108.9 60.3,109.5 C59.8,110.1 59.0,112.5 58.8,113.5 C58.5,114.5 57.9,117.9 57.8,119.0 C57.6,120.1 57.6,124.3 57.3,124.8 C56.9,125.3 54.6,125.0 54.3,124.3 C54.0,123.6 54.2,119.3 54.3,118.0 C54.3,116.7 54.6,112.2 54.8,111.0 C55.0,109.8 55.8,107.4 56.3,106.5 C56.8,105.6 59.2,103.2 59.5,102.0 C59.8,100.8 57.5,95.5 59.2,94.8 Z" fill="#0c0c0c" filter="url(#soft)"/>
<path d="M100.2,47.0 C100.4,46.6 102.6,45.6 103.0,45.6 C103.4,45.6 105.9,47.0 106.0,47.2 C106.1,47.4 105.4,49.1 105.2,49.2 C105.0,49.3 102.8,49.0 102.6,49.2 C102.4,49.4 102.0,51.4 101.8,51.5 C101.6,51.6 99.9,51.3 99.8,51.0 C99.7,50.7 100.0,47.4 100.2,47.0 Z" fill="#e8101a"/>
<clipPath id="cp1"><path d="M410.0,48.0 C409.8,46.7 409.9,40.4 409.8,38.0 C409.7,35.6 409.6,31.7 409.3,30.0 C409.0,28.3 408.2,26.2 407.5,25.2 C406.8,24.2 405.1,22.9 404.2,22.7 C403.3,22.5 401.5,23.1 400.8,23.5 C400.1,23.9 399.1,25.1 398.7,26.0 C398.3,26.9 398.2,29.2 398.0,30.2 C397.8,31.2 397.4,33.7 397.0,33.5 C396.6,33.3 395.7,29.5 395.0,28.5 C394.3,27.5 392.7,26.0 391.7,25.7 C390.7,25.4 388.5,25.8 387.5,26.0 C386.5,26.2 385.0,26.9 384.2,27.3 C383.4,27.7 381.8,28.6 381.3,29.3 C380.8,30.0 380.7,32.1 380.3,32.7 C379.9,33.3 379.0,33.2 378.3,33.5 C377.6,33.8 375.8,34.2 375.0,34.7 C374.2,35.2 372.5,36.5 372.0,37.3 C371.5,38.1 371.8,40.7 371.3,41.0 C370.8,41.3 369.1,39.3 368.3,39.3 C367.5,39.3 365.8,40.3 365.0,41.0 C364.2,41.7 363.0,43.3 362.5,44.3 C362.0,45.3 361.7,47.5 361.3,48.5 C360.9,49.5 360.2,51.1 359.7,51.8 C359.2,52.5 358.1,52.7 357.5,53.5 C356.9,54.3 355.8,56.5 355.3,57.7 C354.8,58.9 354.0,61.4 353.7,62.7 C353.4,64.0 352.9,66.4 352.7,67.7 C352.5,69.0 352.1,71.4 352.0,72.7 C351.9,74.0 351.7,76.5 351.7,77.7 C351.7,78.9 351.8,80.2 351.7,82.0 C351.6,83.8 351.1,88.8 351.2,91.2 C351.3,93.6 351.6,97.6 352.1,100.0 C352.6,102.4 353.9,106.9 354.7,108.9 C355.5,110.9 357.2,113.8 358.3,115.1 C359.4,116.4 361.2,117.9 362.7,118.6 C364.2,119.3 367.8,120.2 369.7,120.4 C371.6,120.6 375.4,119.8 376.8,119.9 C378.2,120.0 379.2,121.1 380.4,121.3 C381.6,121.5 384.3,121.7 385.7,121.3 C387.1,120.9 390.0,118.8 391.0,118.6 C392.0,118.4 392.8,119.9 393.5,119.8 C394.2,119.7 395.4,117.5 396.0,117.5 C396.6,117.5 397.3,118.4 397.7,119.5 C398.1,120.6 398.3,124.1 399.0,125.4 C399.7,126.7 401.8,128.3 402.7,129.1 C403.6,129.9 405.0,131.1 406.0,131.5 C407.0,131.9 408.9,132.4 410.3,132.3 C411.7,132.2 415.1,131.2 416.6,130.4 C418.1,129.6 420.7,127.8 421.7,126.6 C422.7,125.4 423.8,123.1 424.2,121.6 C424.6,120.1 424.6,117.0 424.8,115.3 C425.0,113.6 425.5,110.4 426.0,109.0 C426.5,107.6 427.8,105.4 428.5,104.5 C429.2,103.6 431.4,101.7 431.5,102.0 C431.6,102.3 429.9,105.7 429.5,107.0 C429.1,108.3 428.4,110.4 428.5,111.5 C428.6,112.6 429.7,114.2 430.5,115.3 C431.3,116.4 432.9,118.5 434.2,119.5 C435.5,120.5 438.6,122.4 440.4,123.0 C442.2,123.6 445.3,124.0 447.4,123.9 C449.5,123.8 454.2,122.7 456.3,122.1 C458.4,121.5 461.7,120.4 463.3,119.5 C464.9,118.6 467.5,116.5 468.6,115.1 C469.7,113.7 470.7,110.7 471.3,108.9 C471.9,107.1 472.8,103.9 473.0,101.8 C473.2,99.7 473.2,95.0 473.0,93.0 C472.8,91.0 472.1,88.0 471.3,86.8 C470.5,85.6 468.7,84.3 466.9,84.1 C465.1,83.9 459.4,85.1 458.0,85.0 C456.6,84.9 455.6,83.6 456.3,83.3 C457.0,83.0 461.3,83.0 463.3,82.4 C465.3,81.8 470.5,79.9 471.3,78.8 C472.1,77.7 469.8,75.2 469.5,74.0 C469.2,72.8 469.0,70.8 468.8,70.0 C468.6,69.2 468.4,68.6 468.3,67.7 C468.2,66.8 468.0,64.7 467.7,63.5 C467.4,62.3 466.7,59.8 466.3,58.5 C465.9,57.2 465.2,54.8 464.7,53.5 C464.2,52.2 462.9,49.7 462.2,48.5 C461.5,47.3 460.5,45.3 459.7,44.3 C458.9,43.3 457.2,41.7 456.3,41.0 C455.4,40.3 453.7,39.9 453.0,39.3 C452.3,38.7 451.7,37.5 451.0,36.8 C450.3,36.1 448.8,34.7 448.0,34.0 C447.2,33.3 445.6,32.2 444.7,31.8 C443.8,31.4 442.1,31.4 441.3,31.0 C440.5,30.6 439.6,29.6 438.8,29.0 C438.0,28.4 436.4,27.4 435.5,26.8 C434.6,26.2 433.2,25.2 432.2,24.7 C431.2,24.2 429.1,23.4 428.0,23.0 C426.9,22.6 424.9,22.0 423.8,21.8 C422.7,21.6 420.8,21.6 419.7,21.8 C418.6,22.0 416.5,22.5 415.5,23.0 C414.5,23.5 412.8,24.4 412.2,25.2 C411.6,26.0 411.4,27.6 411.3,29.3 C411.2,31.0 411.3,35.5 411.3,38.0 C411.3,40.5 411.4,46.7 411.2,48.0 C411.0,49.3 410.2,49.3 410.0,48.0 Z"/></clipPath>
<path d="M410.0,48.0 C409.8,46.7 409.9,40.4 409.8,38.0 C409.7,35.6 409.6,31.7 409.3,30.0 C409.0,28.3 408.2,26.2 407.5,25.2 C406.8,24.2 405.1,22.9 404.2,22.7 C403.3,22.5 401.5,23.1 400.8,23.5 C400.1,23.9 399.1,25.1 398.7,26.0 C398.3,26.9 398.2,29.2 398.0,30.2 C397.8,31.2 397.4,33.7 397.0,33.5 C396.6,33.3 395.7,29.5 395.0,28.5 C394.3,27.5 392.7,26.0 391.7,25.7 C390.7,25.4 388.5,25.8 387.5,26.0 C386.5,26.2 385.0,26.9 384.2,27.3 C383.4,27.7 381.8,28.6 381.3,29.3 C380.8,30.0 380.7,32.1 380.3,32.7 C379.9,33.3 379.0,33.2 378.3,33.5 C377.6,33.8 375.8,34.2 375.0,34.7 C374.2,35.2 372.5,36.5 372.0,37.3 C371.5,38.1 371.8,40.7 371.3,41.0 C370.8,41.3 369.1,39.3 368.3,39.3 C367.5,39.3 365.8,40.3 365.0,41.0 C364.2,41.7 363.0,43.3 362.5,44.3 C362.0,45.3 361.7,47.5 361.3,48.5 C360.9,49.5 360.2,51.1 359.7,51.8 C359.2,52.5 358.1,52.7 357.5,53.5 C356.9,54.3 355.8,56.5 355.3,57.7 C354.8,58.9 354.0,61.4 353.7,62.7 C353.4,64.0 352.9,66.4 352.7,67.7 C352.5,69.0 352.1,71.4 352.0,72.7 C351.9,74.0 351.7,76.5 351.7,77.7 C351.7,78.9 351.8,80.2 351.7,82.0 C351.6,83.8 351.1,88.8 351.2,91.2 C351.3,93.6 351.6,97.6 352.1,100.0 C352.6,102.4 353.9,106.9 354.7,108.9 C355.5,110.9 357.2,113.8 358.3,115.1 C359.4,116.4 361.2,117.9 362.7,118.6 C364.2,119.3 367.8,120.2 369.7,120.4 C371.6,120.6 375.4,119.8 376.8,119.9 C378.2,120.0 379.2,121.1 380.4,121.3 C381.6,121.5 384.3,121.7 385.7,121.3 C387.1,120.9 390.0,118.8 391.0,118.6 C392.0,118.4 392.8,119.9 393.5,119.8 C394.2,119.7 395.4,117.5 396.0,117.5 C396.6,117.5 397.3,118.4 397.7,119.5 C398.1,120.6 398.3,124.1 399.0,125.4 C399.7,126.7 401.8,128.3 402.7,129.1 C403.6,129.9 405.0,131.1 406.0,131.5 C407.0,131.9 408.9,132.4 410.3,132.3 C411.7,132.2 415.1,131.2 416.6,130.4 C418.1,129.6 420.7,127.8 421.7,126.6 C422.7,125.4 423.8,123.1 424.2,121.6 C424.6,120.1 424.6,117.0 424.8,115.3 C425.0,113.6 425.5,110.4 426.0,109.0 C426.5,107.6 427.8,105.4 428.5,104.5 C429.2,103.6 431.4,101.7 431.5,102.0 C431.6,102.3 429.9,105.7 429.5,107.0 C429.1,108.3 428.4,110.4 428.5,111.5 C428.6,112.6 429.7,114.2 430.5,115.3 C431.3,116.4 432.9,118.5 434.2,119.5 C435.5,120.5 438.6,122.4 440.4,123.0 C442.2,123.6 445.3,124.0 447.4,123.9 C449.5,123.8 454.2,122.7 456.3,122.1 C458.4,121.5 461.7,120.4 463.3,119.5 C464.9,118.6 467.5,116.5 468.6,115.1 C469.7,113.7 470.7,110.7 471.3,108.9 C471.9,107.1 472.8,103.9 473.0,101.8 C473.2,99.7 473.2,95.0 473.0,93.0 C472.8,91.0 472.1,88.0 471.3,86.8 C470.5,85.6 468.7,84.3 466.9,84.1 C465.1,83.9 459.4,85.1 458.0,85.0 C456.6,84.9 455.6,83.6 456.3,83.3 C457.0,83.0 461.3,83.0 463.3,82.4 C465.3,81.8 470.5,79.9 471.3,78.8 C472.1,77.7 469.8,75.2 469.5,74.0 C469.2,72.8 469.0,70.8 468.8,70.0 C468.6,69.2 468.4,68.6 468.3,67.7 C468.2,66.8 468.0,64.7 467.7,63.5 C467.4,62.3 466.7,59.8 466.3,58.5 C465.9,57.2 465.2,54.8 464.7,53.5 C464.2,52.2 462.9,49.7 462.2,48.5 C461.5,47.3 460.5,45.3 459.7,44.3 C458.9,43.3 457.2,41.7 456.3,41.0 C455.4,40.3 453.7,39.9 453.0,39.3 C452.3,38.7 451.7,37.5 451.0,36.8 C450.3,36.1 448.8,34.7 448.0,34.0 C447.2,33.3 445.6,32.2 444.7,31.8 C443.8,31.4 442.1,31.4 441.3,31.0 C440.5,30.6 439.6,29.6 438.8,29.0 C438.0,28.4 436.4,27.4 435.5,26.8 C434.6,26.2 433.2,25.2 432.2,24.7 C431.2,24.2 429.1,23.4 428.0,23.0 C426.9,22.6 424.9,22.0 423.8,21.8 C422.7,21.6 420.8,21.6 419.7,21.8 C418.6,22.0 416.5,22.5 415.5,23.0 C414.5,23.5 412.8,24.4 412.2,25.2 C411.6,26.0 411.4,27.6 411.3,29.3 C411.2,31.0 411.3,35.5 411.3,38.0 C411.3,40.5 411.4,46.7 411.2,48.0 C411.0,49.3 410.2,49.3 410.0,48.0 Z" fill="none" stroke="#f6f6f6" stroke-width="9" filter="url(#soft3)"/>
<path d="M410.0,48.0 C409.8,46.7 409.9,40.4 409.8,38.0 C409.7,35.6 409.6,31.7 409.3,30.0 C409.0,28.3 408.2,26.2 407.5,25.2 C406.8,24.2 405.1,22.9 404.2,22.7 C403.3,22.5 401.5,23.1 400.8,23.5 C400.1,23.9 399.1,25.1 398.7,26.0 C398.3,26.9 398.2,29.2 398.0,30.2 C397.8,31.2 397.4,33.7 397.0,33.5 C396.6,33.3 395.7,29.5 395.0,28.5 C394.3,27.5 392.7,26.0 391.7,25.7 C390.7,25.4 388.5,25.8 387.5,26.0 C386.5,26.2 385.0,26.9 384.2,27.3 C383.4,27.7 381.8,28.6 381.3,29.3 C380.8,30.0 380.7,32.1 380.3,32.7 C379.9,33.3 379.0,33.2 378.3,33.5 C377.6,33.8 375.8,34.2 375.0,34.7 C374.2,35.2 372.5,36.5 372.0,37.3 C371.5,38.1 371.8,40.7 371.3,41.0 C370.8,41.3 369.1,39.3 368.3,39.3 C367.5,39.3 365.8,40.3 365.0,41.0 C364.2,41.7 363.0,43.3 362.5,44.3 C362.0,45.3 361.7,47.5 361.3,48.5 C360.9,49.5 360.2,51.1 359.7,51.8 C359.2,52.5 358.1,52.7 357.5,53.5 C356.9,54.3 355.8,56.5 355.3,57.7 C354.8,58.9 354.0,61.4 353.7,62.7 C353.4,64.0 352.9,66.4 352.7,67.7 C352.5,69.0 352.1,71.4 352.0,72.7 C351.9,74.0 351.7,76.5 351.7,77.7 C351.7,78.9 351.8,80.2 351.7,82.0 C351.6,83.8 351.1,88.8 351.2,91.2 C351.3,93.6 351.6,97.6 352.1,100.0 C352.6,102.4 353.9,106.9 354.7,108.9 C355.5,110.9 357.2,113.8 358.3,115.1 C359.4,116.4 361.2,117.9 362.7,118.6 C364.2,119.3 367.8,120.2 369.7,120.4 C371.6,120.6 375.4,119.8 376.8,119.9 C378.2,120.0 379.2,121.1 380.4,121.3 C381.6,121.5 384.3,121.7 385.7,121.3 C387.1,120.9 390.0,118.8 391.0,118.6 C392.0,118.4 392.8,119.9 393.5,119.8 C394.2,119.7 395.4,117.5 396.0,117.5 C396.6,117.5 397.3,118.4 397.7,119.5 C398.1,120.6 398.3,124.1 399.0,125.4 C399.7,126.7 401.8,128.3 402.7,129.1 C403.6,129.9 405.0,131.1 406.0,131.5 C407.0,131.9 408.9,132.4 410.3,132.3 C411.7,132.2 415.1,131.2 416.6,130.4 C418.1,129.6 420.7,127.8 421.7,126.6 C422.7,125.4 423.8,123.1 424.2,121.6 C424.6,120.1 424.6,117.0 424.8,115.3 C425.0,113.6 425.5,110.4 426.0,109.0 C426.5,107.6 427.8,105.4 428.5,104.5 C429.2,103.6 431.4,101.7 431.5,102.0 C431.6,102.3 429.9,105.7 429.5,107.0 C429.1,108.3 428.4,110.4 428.5,111.5 C428.6,112.6 429.7,114.2 430.5,115.3 C431.3,116.4 432.9,118.5 434.2,119.5 C435.5,120.5 438.6,122.4 440.4,123.0 C442.2,123.6 445.3,124.0 447.4,123.9 C449.5,123.8 454.2,122.7 456.3,122.1 C458.4,121.5 461.7,120.4 463.3,119.5 C464.9,118.6 467.5,116.5 468.6,115.1 C469.7,113.7 470.7,110.7 471.3,108.9 C471.9,107.1 472.8,103.9 473.0,101.8 C473.2,99.7 473.2,95.0 473.0,93.0 C472.8,91.0 472.1,88.0 471.3,86.8 C470.5,85.6 468.7,84.3 466.9,84.1 C465.1,83.9 459.4,85.1 458.0,85.0 C456.6,84.9 455.6,83.6 456.3,83.3 C457.0,83.0 461.3,83.0 463.3,82.4 C465.3,81.8 470.5,79.9 471.3,78.8 C472.1,77.7 469.8,75.2 469.5,74.0 C469.2,72.8 469.0,70.8 468.8,70.0 C468.6,69.2 468.4,68.6 468.3,67.7 C468.2,66.8 468.0,64.7 467.7,63.5 C467.4,62.3 466.7,59.8 466.3,58.5 C465.9,57.2 465.2,54.8 464.7,53.5 C464.2,52.2 462.9,49.7 462.2,48.5 C461.5,47.3 460.5,45.3 459.7,44.3 C458.9,43.3 457.2,41.7 456.3,41.0 C455.4,40.3 453.7,39.9 453.0,39.3 C452.3,38.7 451.7,37.5 451.0,36.8 C450.3,36.1 448.8,34.7 448.0,34.0 C447.2,33.3 445.6,32.2 444.7,31.8 C443.8,31.4 442.1,31.4 441.3,31.0 C440.5,30.6 439.6,29.6 438.8,29.0 C438.0,28.4 436.4,27.4 435.5,26.8 C434.6,26.2 433.2,25.2 432.2,24.7 C431.2,24.2 429.1,23.4 428.0,23.0 C426.9,22.6 424.9,22.0 423.8,21.8 C422.7,21.6 420.8,21.6 419.7,21.8 C418.6,22.0 416.5,22.5 415.5,23.0 C414.5,23.5 412.8,24.4 412.2,25.2 C411.6,26.0 411.4,27.6 411.3,29.3 C411.2,31.0 411.3,35.5 411.3,38.0 C411.3,40.5 411.4,46.7 411.2,48.0 C411.0,49.3 410.2,49.3 410.0,48.0 Z" fill="#adadad" stroke="#8a8a8a" stroke-width="1" filter="url(#soft)"/>
<g clip-path="url(#cp1)">
<path d="M410.0,48.0 C409.8,46.7 409.9,40.4 409.8,38.0 C409.7,35.6 409.6,31.7 409.3,30.0 C409.0,28.3 408.2,26.2 407.5,25.2 C406.8,24.2 405.1,22.9 404.2,22.7 C403.3,22.5 401.5,23.1 400.8,23.5 C400.1,23.9 399.1,25.1 398.7,26.0 C398.3,26.9 398.2,29.2 398.0,30.2 C397.8,31.2 397.4,33.7 397.0,33.5 C396.6,33.3 395.7,29.5 395.0,28.5 C394.3,27.5 392.7,26.0 391.7,25.7 C390.7,25.4 388.5,25.8 387.5,26.0 C386.5,26.2 385.0,26.9 384.2,27.3 C383.4,27.7 381.8,28.6 381.3,29.3 C380.8,30.0 380.7,32.1 380.3,32.7 C379.9,33.3 379.0,33.2 378.3,33.5 C377.6,33.8 375.8,34.2 375.0,34.7 C374.2,35.2 372.5,36.5 372.0,37.3 C371.5,38.1 371.8,40.7 371.3,41.0 C370.8,41.3 369.1,39.3 368.3,39.3 C367.5,39.3 365.8,40.3 365.0,41.0 C364.2,41.7 363.0,43.3 362.5,44.3 C362.0,45.3 361.7,47.5 361.3,48.5 C360.9,49.5 360.2,51.1 359.7,51.8 C359.2,52.5 358.1,52.7 357.5,53.5 C356.9,54.3 355.8,56.5 355.3,57.7 C354.8,58.9 354.0,61.4 353.7,62.7 C353.4,64.0 352.9,66.4 352.7,67.7 C352.5,69.0 352.1,71.4 352.0,72.7 C351.9,74.0 351.7,76.5 351.7,77.7 C351.7,78.9 351.8,80.2 351.7,82.0 C351.6,83.8 351.1,88.8 351.2,91.2 C351.3,93.6 351.6,97.6 352.1,100.0 C352.6,102.4 353.9,106.9 354.7,108.9 C355.5,110.9 357.2,113.8 358.3,115.1 C359.4,116.4 361.2,117.9 362.7,118.6 C364.2,119.3 367.8,120.2 369.7,120.4 C371.6,120.6 375.4,119.8 376.8,119.9 C378.2,120.0 379.2,121.1 380.4,121.3 C381.6,121.5 384.3,121.7 385.7,121.3 C387.1,120.9 390.0,118.8 391.0,118.6 C392.0,118.4 392.8,119.9 393.5,119.8 C394.2,119.7 395.4,117.5 396.0,117.5 C396.6,117.5 397.3,118.4 397.7,119.5 C398.1,120.6 398.3,124.1 399.0,125.4 C399.7,126.7 401.8,128.3 402.7,129.1 C403.6,129.9 405.0,131.1 406.0,131.5 C407.0,131.9 408.9,132.4 410.3,132.3 C411.7,132.2 415.1,131.2 416.6,130.4 C418.1,129.6 420.7,127.8 421.7,126.6 C422.7,125.4 423.8,123.1 424.2,121.6 C424.6,120.1 424.6,117.0 424.8,115.3 C425.0,113.6 425.5,110.4 426.0,109.0 C426.5,107.6 427.8,105.4 428.5,104.5 C429.2,103.6 431.4,101.7 431.5,102.0 C431.6,102.3 429.9,105.7 429.5,107.0 C429.1,108.3 428.4,110.4 428.5,111.5 C428.6,112.6 429.7,114.2 430.5,115.3 C431.3,116.4 432.9,118.5 434.2,119.5 C435.5,120.5 438.6,122.4 440.4,123.0 C442.2,123.6 445.3,124.0 447.4,123.9 C449.5,123.8 454.2,122.7 456.3,122.1 C458.4,121.5 461.7,120.4 463.3,119.5 C464.9,118.6 467.5,116.5 468.6,115.1 C469.7,113.7 470.7,110.7 471.3,108.9 C471.9,107.1 472.8,103.9 473.0,101.8 C473.2,99.7 473.2,95.0 473.0,93.0 C472.8,91.0 472.1,88.0 471.3,86.8 C470.5,85.6 468.7,84.3 466.9,84.1 C465.1,83.9 459.4,85.1 458.0,85.0 C456.6,84.9 455.6,83.6 456.3,83.3 C457.0,83.0 461.3,83.0 463.3,82.4 C465.3,81.8 470.5,79.9 471.3,78.8 C472.1,77.7 469.8,75.2 469.5,74.0 C469.2,72.8 469.0,70.8 468.8,70.0 C468.6,69.2 468.4,68.6 468.3,67.7 C468.2,66.8 468.0,64.7 467.7,63.5 C467.4,62.3 466.7,59.8 466.3,58.5 C465.9,57.2 465.2,54.8 464.7,53.5 C464.2,52.2 462.9,49.7 462.2,48.5 C461.5,47.3 460.5,45.3 459.7,44.3 C458.9,43.3 457.2,41.7 456.3,41.0 C455.4,40.3 453.7,39.9 453.0,39.3 C452.3,38.7 451.7,37.5 451.0,36.8 C450.3,36.1 448.8,34.7 448.0,34.0 C447.2,33.3 445.6,32.2 444.7,31.8 C443.8,31.4 442.1,31.4 441.3,31.0 C440.5,30.6 439.6,29.6 438.8,29.0 C438.0,28.4 436.4,27.4 435.5,26.8 C434.6,26.2 433.2,25.2 432.2,24.7 C431.2,24.2 429.1,23.4 428.0,23.0 C426.9,22.6 424.9,22.0 423.8,21.8 C422.7,21.6 420.8,21.6 419.7,21.8 C418.6,22.0 416.5,22.5 415.5,23.0 C414.5,23.5 412.8,24.4 412.2,25.2 C411.6,26.0 411.4,27.6 411.3,29.3 C411.2,31.0 411.3,35.5 411.3,38.0 C411.3,40.5 411.4,46.7 411.2,48.0 C411.0,49.3 410.2,49.3 410.0,48.0 Z" fill="#dedede" filter="url(#erode)"/>
<g filter="url(#soft3)">
</g><g filter="url(#soft2)" fill="none" stroke-linecap="round" stroke-linejoin="round">
<path d="M442.6,84.9 C443.7,86.3 448.2,91.9 449.3,93.3 " stroke="#a0a0a0" stroke-width="5"/>
<path d="M457.0,93.0 C459.2,93.0 467.8,93.0 470.0,93.0 " stroke="#a0a0a0" stroke-width="5.5"/>
<path d="M455.0,100.5 C457.5,100.5 467.5,100.5 470.0,100.5 " stroke="#a0a0a0" stroke-width="5.5"/>
<path d="M458.0,111.0 C460.0,111.0 468.0,111.0 470.0,111.0 " stroke="#a0a0a0" stroke-width="6"/>
<path d="M448.0,110.0 C448.2,111.7 448.8,118.3 449.0,120.0 " stroke="#a0a0a0" stroke-width="5.5"/>
<path d="M436.0,113.0 C437.2,113.8 441.8,117.2 443.0,118.0 " stroke="#a0a0a0" stroke-width="6"/>
<path d="M433.0,104.5 C434.8,104.5 442.2,104.5 444.0,104.5 " stroke="#a0a0a0" stroke-width="6"/>
<path d="M354.0,93.5 C356.3,93.5 365.7,93.5 368.0,93.5 " stroke="#a0a0a0" stroke-width="8"/>
<path d="M354.0,103.0 C355.0,104.8 359.0,112.2 360.0,114.0 " stroke="#a0a0a0" stroke-width="7"/>
<path d="M377.0,104.0 C377.8,105.0 381.2,109.0 382.0,110.0 " stroke="#a0a0a0" stroke-width="6"/>
<path d="M383.0,110.0 C383.8,110.8 387.2,114.2 388.0,115.0 " stroke="#a0a0a0" stroke-width="5"/>
<path d="M353.0,73.0 C355.5,73.5 365.5,75.5 368.0,76.0 " stroke="#a0a0a0" stroke-width="5"/>
<path d="M364.0,116.0 C365.3,116.3 370.7,117.7 372.0,118.0 " stroke="#a0a0a0" stroke-width="5"/>
<path d="M397.0,33.5 C397.2,34.6 397.7,37.8 398.0,40.0 C398.3,42.2 398.8,45.8 399.0,47.0 " stroke="#a0a0a0" stroke-width="5"/>
<path d="M380.3,32.7 C380.7,33.9 381.7,37.5 382.5,40.0 C383.3,42.5 384.6,46.4 385.0,47.7 " stroke="#a0a0a0" stroke-width="5"/>
<path d="M371.3,41.0 C372.0,42.1 374.1,45.3 375.5,47.5 C376.9,49.7 379.2,52.9 380.0,54.0 " stroke="#a0a0a0" stroke-width="5"/>
<path d="M359.7,51.8 C360.4,52.3 362.6,54.0 364.0,55.0 C365.4,56.0 367.3,57.5 368.0,58.0 " stroke="#a0a0a0" stroke-width="5"/>
<path d="M352.7,67.7 C353.8,68.1 356.8,69.1 359.0,70.0 C361.2,70.9 364.8,72.5 366.0,73.0 " stroke="#a0a0a0" stroke-width="5"/>
<path d="M400.0,49.0 C400.8,49.7 404.2,52.3 405.0,53.0 " stroke="#a0a0a0" stroke-width="7"/>
<path d="M424.7,22.7 C425.1,24.2 426.2,28.9 427.0,32.0 C427.8,35.0 429.2,39.5 429.7,41.0 " stroke="#a0a0a0" stroke-width="5"/>
<path d="M441.3,31.0 C441.2,32.2 440.8,36.0 440.5,38.5 C440.2,41.0 439.8,44.8 439.7,46.0 " stroke="#a0a0a0" stroke-width="5"/>
<path d="M453.0,39.3 C452.3,40.2 450.5,43.0 449.0,45.0 C447.5,47.0 444.8,50.0 444.0,51.0 " stroke="#a0a0a0" stroke-width="6"/>
<path d="M445.0,51.0 C445.8,51.5 448.2,53.0 450.0,54.0 C451.8,55.0 455.0,56.5 456.0,57.0 " stroke="#a0a0a0" stroke-width="8"/>
<path d="M466.3,58.5 C465.6,58.9 463.4,60.1 462.0,61.0 C460.6,61.9 458.7,63.5 458.0,64.0 " stroke="#a0a0a0" stroke-width="6"/>
<path d="M414.0,49.0 C415.0,49.7 419.0,52.3 420.0,53.0 " stroke="#a0a0a0" stroke-width="7"/>
<path d="M456.0,71.0 C457.8,71.2 465.2,71.8 467.0,72.0 " stroke="#bcbcbc" stroke-width="12"/>
<path d="M356.0,78.0 C358.7,78.3 369.3,79.7 372.0,80.0 " stroke="#bcbcbc" stroke-width="8"/>
<path d="M374.0,72.0 C374.8,73.7 378.2,80.3 379.0,82.0 " stroke="#bcbcbc" stroke-width="8"/>
<path d="M441.0,75.0 C442.0,77.0 446.0,85.0 447.0,87.0 " stroke="#bcbcbc" stroke-width="9"/>
<path d="M410.6,23.0 C410.6,24.5 410.7,29.2 410.7,32.0 C410.7,34.8 410.8,37.7 410.8,40.0 C410.8,42.3 410.9,45.0 410.9,46.0 " stroke="#b2b2b2" stroke-width="4.5"/>
</g><g filter="url(#soft2)">
<path d="M396.0,105.0 C397.5,102.5 401.3,100.8 405.0,100.0 C408.7,99.2 414.3,99.3 418.0,100.0 C421.7,100.7 425.8,101.5 427.0,104.0 C428.2,106.5 425.7,111.7 425.0,115.0 C424.3,118.3 424.5,121.3 423.0,124.0 C421.5,126.7 419.0,129.8 416.0,131.0 C413.0,132.2 407.8,132.3 405.0,131.5 C402.2,130.7 400.5,128.8 399.0,126.0 C397.5,123.2 396.5,118.5 396.0,115.0 C395.5,111.5 394.5,107.5 396.0,105.0 Z" fill="#cacaca"/>
</g>
<g fill="none" stroke="#2a2a2a" stroke-linecap="round" filter="url(#soft)">
<path d="M360.5,59.5 C361.1,59.8 362.9,60.4 364.0,61.0 C365.1,61.6 366.5,62.7 367.0,63.0 " stroke-width="2"/>
<path d="M360.5,83.5 C361.4,83.6 365.1,84.2 366.0,84.3 " stroke-width="1.5"/>
<path d="M370.5,80.0 C371.8,80.1 377.2,80.7 378.5,80.8 " stroke-width="1.5"/>
<path d="M374.0,84.0 C374.7,84.3 377.2,85.2 378.0,86.0 C378.8,86.8 379.2,88.0 379.0,89.0 C378.8,90.0 376.9,91.5 376.5,92.0 " stroke-width="1.8"/>
<path d="M389.0,101.5 C389.7,101.9 391.8,102.8 393.0,104.0 C394.2,105.2 395.9,107.8 396.5,108.5 " stroke-width="1.9"/>
<path d="M446.5,46.0 C447.2,45.2 450.2,42.2 451.0,41.5 " stroke-width="1.9"/>
<path d="M464.5,101.0 C464.7,101.1 465.3,101.4 465.5,101.5 " stroke-width="2"/>
<path d="M410.8,48.0 C410.8,48.3 411.0,49.7 411.0,50.0 " stroke-width="2"/>
</g>
</g>
<path d="M410.6,23.0 C410.6,24.5 410.7,29.2 410.7,32.0 C410.7,34.8 410.8,37.7 410.8,40.0 C410.8,42.3 410.9,45.0 410.9,46.0 " stroke="#fdfdfd" stroke-width="1.6" fill="none" filter="url(#soft)"/>
<path d="M398.2,25.0 C398.1,25.7 397.8,27.8 397.6,29.0 C397.4,30.2 397.2,31.9 397.1,32.5 " stroke="#fbfbfb" stroke-width="1.5" stroke-linecap="round" fill="none" filter="url(#soft)"/>
<path d="M370.5,39.5 C370.7,40.2 371.3,42.8 371.5,43.5 " stroke="#fbfbfb" stroke-width="1.5" stroke-linecap="round" fill="none" filter="url(#soft)"/>
<path d="M393.6,65.5 C393.8,65.0 394.9,64.0 395.5,63.9 C396.1,63.8 398.7,63.9 399.5,64.1 C400.3,64.3 402.5,65.3 403.3,65.8 C404.1,66.2 406.5,68.0 407.1,68.6 C407.7,69.2 409.4,70.9 409.5,71.5 C409.6,72.1 409.0,74.4 408.5,74.8 C408.0,75.2 405.0,75.2 404.1,75.2 C403.2,75.2 400.3,75.1 399.5,75.0 C398.7,74.9 396.5,74.5 396.0,74.2 C395.5,74.0 394.5,73.0 394.2,72.5 C393.9,72.0 393.5,69.7 393.4,69.0 C393.3,68.3 393.4,66.0 393.6,65.5 Z" fill="#0c0c0c" filter="url(#soft)"/>
<path d="M427.6,65.5 C427.4,65.0 426.3,64.0 425.7,63.9 C425.1,63.8 422.5,63.9 421.7,64.1 C420.9,64.3 418.7,65.3 417.9,65.8 C417.1,66.2 414.7,68.0 414.1,68.6 C413.5,69.2 411.8,70.9 411.7,71.5 C411.6,72.1 412.2,74.4 412.7,74.8 C413.2,75.2 416.2,75.2 417.1,75.2 C418.0,75.2 420.9,75.1 421.7,75.0 C422.5,74.9 424.7,74.5 425.2,74.2 C425.7,74.0 426.7,73.0 427.0,72.5 C427.3,72.0 427.7,69.7 427.8,69.0 C427.9,68.3 427.8,66.0 427.6,65.5 Z" fill="#0c0c0c" filter="url(#soft)"/>
<path d="M406.0,70.5 C406.9,70.0 414.2,70.0 415.2,70.5 C416.1,71.0 415.7,74.3 415.5,75.0 C415.3,75.7 413.8,77.0 413.5,77.5 C413.2,78.0 412.6,79.2 412.5,80.0 C412.4,80.8 412.2,84.5 412.3,85.5 C412.4,86.5 413.4,89.1 413.5,90.0 C413.6,90.9 413.4,93.9 413.2,94.5 C412.9,95.1 411.4,96.3 411.0,96.3 C410.6,96.3 409.1,95.1 408.9,94.5 C408.7,93.9 408.5,90.9 408.6,90.0 C408.7,89.1 409.5,86.5 409.6,85.5 C409.7,84.5 409.5,80.8 409.3,80.0 C409.1,79.2 408.2,78.0 407.8,77.5 C407.4,77.0 406.0,75.7 405.8,75.0 C405.6,74.3 405.1,71.0 406.0,70.5 Z" fill="#0c0c0c" filter="url(#soft)"/>
<path d="M409.4,61.2 C409.6,60.9 411.8,60.9 412.0,61.2 C412.2,61.5 411.5,64.0 411.3,64.3 C411.1,64.6 410.2,64.6 410.0,64.3 C409.8,64.0 409.2,61.5 409.4,61.2 Z" fill="#0c0c0c" filter="url(#soft)"/>
<path d="M406.1,69.2 C406.5,69.9 407.7,72.3 408.3,73.5 C408.9,74.7 409.4,76.1 409.6,76.6 " stroke="#c6c6c6" stroke-width="1.3" fill="none" filter="url(#soft)"/>
<path d="M415.4,69.2 C415.0,69.9 413.8,72.3 413.2,73.5 C412.6,74.7 412.0,76.1 411.8,76.6 " stroke="#c6c6c6" stroke-width="1.3" fill="none" filter="url(#soft)"/>
<path d="M459.0,69.0 C459.4,68.7 465.4,68.5 466.0,68.6 C466.6,68.7 468.4,69.5 468.6,70.0 C468.8,70.5 468.9,75.6 468.6,76.0 C468.3,76.4 464.6,75.7 464.0,75.5 C463.4,75.3 460.3,73.9 460.0,73.5 C459.7,73.1 458.6,69.3 459.0,69.0 Z" fill="#cc0a1e"/>
<clipPath id="cp2"><path d="M67.2,281.0 C67.0,279.5 67.2,272.8 67.3,270.0 C67.4,267.2 67.9,261.9 67.6,260.0 C67.3,258.1 66.3,256.6 65.4,256.0 C64.5,255.4 62.2,255.3 61.0,255.3 C59.8,255.3 57.5,255.6 56.6,256.0 C55.7,256.4 54.4,257.4 53.9,258.3 C53.4,259.2 52.8,261.3 52.5,262.7 C52.2,264.1 51.9,268.7 51.6,268.9 C51.3,269.1 50.9,265.3 50.4,264.4 C49.9,263.5 48.6,262.7 47.7,262.3 C46.8,261.9 44.6,261.4 43.3,261.3 C42.0,261.2 39.3,261.4 38.0,261.8 C36.7,262.2 34.5,263.7 33.6,264.4 C32.7,265.1 31.4,266.3 30.9,267.1 C30.4,267.9 30.5,269.9 30.0,270.2 C29.5,270.5 28.1,269.5 27.4,269.7 C26.7,269.9 25.3,270.8 24.7,271.5 C24.1,272.2 22.9,274.0 22.6,275.0 C22.3,276.0 22.5,278.4 22.1,279.0 C21.7,279.6 20.0,279.1 19.4,279.5 C18.8,279.9 17.8,281.2 17.3,282.1 C16.8,283.0 16.1,285.4 15.9,286.5 C15.7,287.6 15.9,289.4 15.6,290.0 C15.3,290.6 13.8,290.4 13.3,291.0 C12.8,291.6 12.2,293.3 12.0,294.5 C11.8,295.7 11.6,298.4 11.5,299.8 C11.4,301.2 11.1,303.4 11.0,305.1 C10.9,306.8 10.8,310.7 10.6,312.2 C10.4,313.7 10.0,315.1 9.7,316.0 C9.4,316.9 8.7,317.5 8.5,319.1 C8.3,320.7 8.0,325.6 8.0,328.0 C8.0,330.4 8.3,334.7 8.8,336.8 C9.3,338.9 10.6,342.4 11.5,343.9 C12.4,345.4 14.4,347.5 15.9,348.3 C17.4,349.1 21.0,349.9 23.0,350.1 C25.0,350.3 29.0,349.9 30.9,350.1 C32.8,350.3 35.4,351.7 37.1,351.8 C38.8,351.9 42.4,351.0 44.0,350.5 C45.6,350.0 47.9,348.7 49.0,348.0 C50.1,347.3 51.4,346.1 52.0,345.0 C52.6,343.9 53.0,341.3 53.2,340.0 C53.4,338.7 53.4,335.3 53.6,335.0 C53.8,334.7 54.8,336.7 55.0,338.0 C55.2,339.3 55.7,343.4 55.3,345.0 C54.9,346.6 52.7,349.1 52.0,350.3 C51.3,351.5 50.3,353.1 50.1,354.1 C49.9,355.1 50.2,356.7 50.7,357.9 C51.2,359.1 52.8,361.7 53.9,362.9 C55.0,364.1 57.6,365.9 58.9,366.7 C60.2,367.5 62.7,368.4 64.0,368.6 C65.3,368.8 67.5,368.2 69.0,368.0 C70.5,367.8 73.9,368.0 75.4,367.3 C76.9,366.6 79.2,364.2 80.4,362.9 C81.6,361.6 83.4,359.2 84.2,357.9 C85.0,356.6 86.1,354.1 86.1,352.8 C86.1,351.5 84.7,349.2 84.2,347.8 C83.7,346.4 82.6,343.7 82.3,342.1 C82.0,340.5 81.7,337.0 81.8,336.0 C81.9,335.0 82.7,334.1 83.0,334.5 C83.3,334.9 83.8,337.4 84.0,339.0 C84.2,340.6 84.3,345.0 84.8,346.5 C85.3,348.0 86.9,349.6 88.0,350.3 C89.1,351.0 92.0,351.3 93.0,351.6 C94.0,351.9 93.9,352.4 95.4,352.4 C96.9,352.4 102.1,352.1 104.2,351.8 C106.3,351.5 109.4,350.4 111.3,350.1 C113.2,349.8 116.5,349.7 118.3,349.2 C120.1,348.7 123.3,347.7 124.5,346.5 C125.7,345.3 126.7,342.4 127.2,340.4 C127.7,338.4 128.0,333.9 128.1,331.5 C128.2,329.1 128.2,325.0 128.1,322.7 C128.0,320.4 127.6,315.9 127.5,314.0 C127.4,312.1 127.3,309.8 127.1,308.2 C126.9,306.6 126.4,303.3 126.1,301.7 C125.8,300.1 125.4,297.6 125.0,296.1 C124.6,294.6 123.9,291.8 123.4,290.4 C122.9,289.0 121.7,286.8 121.0,285.6 C120.3,284.4 119.2,282.5 118.5,281.5 C117.8,280.5 116.8,279.2 116.1,278.3 C115.4,277.4 113.9,275.9 112.9,275.0 C111.9,274.1 109.8,272.4 108.8,271.8 C107.8,271.2 106.2,270.7 105.6,270.2 C105.0,269.7 104.7,268.5 104.0,267.8 C103.3,267.1 101.6,265.6 100.7,264.9 C99.8,264.2 98.4,263.2 97.5,262.9 C96.6,262.6 95.0,263.2 94.3,262.9 C93.6,262.6 92.7,261.1 91.9,260.5 C91.1,259.9 89.7,258.8 88.6,258.4 C87.5,258.0 84.8,257.7 83.8,257.8 C82.8,257.9 82.1,259.0 81.4,258.9 C80.7,258.8 79.8,257.7 78.9,257.3 C78.0,256.9 76.0,256.2 74.9,256.1 C73.8,256.0 71.6,256.0 70.8,256.5 C70.0,257.0 68.9,257.9 68.6,259.7 C68.3,261.5 68.5,267.2 68.5,270.0 C68.5,272.8 68.8,279.5 68.6,281.0 C68.4,282.5 67.4,282.5 67.2,281.0 Z"/></clipPath>
<path d="M67.2,281.0 C67.0,279.5 67.2,272.8 67.3,270.0 C67.4,267.2 67.9,261.9 67.6,260.0 C67.3,258.1 66.3,256.6 65.4,256.0 C64.5,255.4 62.2,255.3 61.0,255.3 C59.8,255.3 57.5,255.6 56.6,256.0 C55.7,256.4 54.4,257.4 53.9,258.3 C53.4,259.2 52.8,261.3 52.5,262.7 C52.2,264.1 51.9,268.7 51.6,268.9 C51.3,269.1 50.9,265.3 50.4,264.4 C49.9,263.5 48.6,262.7 47.7,262.3 C46.8,261.9 44.6,261.4 43.3,261.3 C42.0,261.2 39.3,261.4 38.0,261.8 C36.7,262.2 34.5,263.7 33.6,264.4 C32.7,265.1 31.4,266.3 30.9,267.1 C30.4,267.9 30.5,269.9 30.0,270.2 C29.5,270.5 28.1,269.5 27.4,269.7 C26.7,269.9 25.3,270.8 24.7,271.5 C24.1,272.2 22.9,274.0 22.6,275.0 C22.3,276.0 22.5,278.4 22.1,279.0 C21.7,279.6 20.0,279.1 19.4,279.5 C18.8,279.9 17.8,281.2 17.3,282.1 C16.8,283.0 16.1,285.4 15.9,286.5 C15.7,287.6 15.9,289.4 15.6,290.0 C15.3,290.6 13.8,290.4 13.3,291.0 C12.8,291.6 12.2,293.3 12.0,294.5 C11.8,295.7 11.6,298.4 11.5,299.8 C11.4,301.2 11.1,303.4 11.0,305.1 C10.9,306.8 10.8,310.7 10.6,312.2 C10.4,313.7 10.0,315.1 9.7,316.0 C9.4,316.9 8.7,317.5 8.5,319.1 C8.3,320.7 8.0,325.6 8.0,328.0 C8.0,330.4 8.3,334.7 8.8,336.8 C9.3,338.9 10.6,342.4 11.5,343.9 C12.4,345.4 14.4,347.5 15.9,348.3 C17.4,349.1 21.0,349.9 23.0,350.1 C25.0,350.3 29.0,349.9 30.9,350.1 C32.8,350.3 35.4,351.7 37.1,351.8 C38.8,351.9 42.4,351.0 44.0,350.5 C45.6,350.0 47.9,348.7 49.0,348.0 C50.1,347.3 51.4,346.1 52.0,345.0 C52.6,343.9 53.0,341.3 53.2,340.0 C53.4,338.7 53.4,335.3 53.6,335.0 C53.8,334.7 54.8,336.7 55.0,338.0 C55.2,339.3 55.7,343.4 55.3,345.0 C54.9,346.6 52.7,349.1 52.0,350.3 C51.3,351.5 50.3,353.1 50.1,354.1 C49.9,355.1 50.2,356.7 50.7,357.9 C51.2,359.1 52.8,361.7 53.9,362.9 C55.0,364.1 57.6,365.9 58.9,366.7 C60.2,367.5 62.7,368.4 64.0,368.6 C65.3,368.8 67.5,368.2 69.0,368.0 C70.5,367.8 73.9,368.0 75.4,367.3 C76.9,366.6 79.2,364.2 80.4,362.9 C81.6,361.6 83.4,359.2 84.2,357.9 C85.0,356.6 86.1,354.1 86.1,352.8 C86.1,351.5 84.7,349.2 84.2,347.8 C83.7,346.4 82.6,343.7 82.3,342.1 C82.0,340.5 81.7,337.0 81.8,336.0 C81.9,335.0 82.7,334.1 83.0,334.5 C83.3,334.9 83.8,337.4 84.0,339.0 C84.2,340.6 84.3,345.0 84.8,346.5 C85.3,348.0 86.9,349.6 88.0,350.3 C89.1,351.0 92.0,351.3 93.0,351.6 C94.0,351.9 93.9,352.4 95.4,352.4 C96.9,352.4 102.1,352.1 104.2,351.8 C106.3,351.5 109.4,350.4 111.3,350.1 C113.2,349.8 116.5,349.7 118.3,349.2 C120.1,348.7 123.3,347.7 124.5,346.5 C125.7,345.3 126.7,342.4 127.2,340.4 C127.7,338.4 128.0,333.9 128.1,331.5 C128.2,329.1 128.2,325.0 128.1,322.7 C128.0,320.4 127.6,315.9 127.5,314.0 C127.4,312.1 127.3,309.8 127.1,308.2 C126.9,306.6 126.4,303.3 126.1,301.7 C125.8,300.1 125.4,297.6 125.0,296.1 C124.6,294.6 123.9,291.8 123.4,290.4 C122.9,289.0 121.7,286.8 121.0,285.6 C120.3,284.4 119.2,282.5 118.5,281.5 C117.8,280.5 116.8,279.2 116.1,278.3 C115.4,277.4 113.9,275.9 112.9,275.0 C111.9,274.1 109.8,272.4 108.8,271.8 C107.8,271.2 106.2,270.7 105.6,270.2 C105.0,269.7 104.7,268.5 104.0,267.8 C103.3,267.1 101.6,265.6 100.7,264.9 C99.8,264.2 98.4,263.2 97.5,262.9 C96.6,262.6 95.0,263.2 94.3,262.9 C93.6,262.6 92.7,261.1 91.9,260.5 C91.1,259.9 89.7,258.8 88.6,258.4 C87.5,258.0 84.8,257.7 83.8,257.8 C82.8,257.9 82.1,259.0 81.4,258.9 C80.7,258.8 79.8,257.7 78.9,257.3 C78.0,256.9 76.0,256.2 74.9,256.1 C73.8,256.0 71.6,256.0 70.8,256.5 C70.0,257.0 68.9,257.9 68.6,259.7 C68.3,261.5 68.5,267.2 68.5,270.0 C68.5,272.8 68.8,279.5 68.6,281.0 C68.4,282.5 67.4,282.5 67.2,281.0 Z" fill="none" stroke="#f6f6f6" stroke-width="9" filter="url(#soft3)"/>
<path d="M67.2,281.0 C67.0,279.5 67.2,272.8 67.3,270.0 C67.4,267.2 67.9,261.9 67.6,260.0 C67.3,258.1 66.3,256.6 65.4,256.0 C64.5,255.4 62.2,255.3 61.0,255.3 C59.8,255.3 57.5,255.6 56.6,256.0 C55.7,256.4 54.4,257.4 53.9,258.3 C53.4,259.2 52.8,261.3 52.5,262.7 C52.2,264.1 51.9,268.7 51.6,268.9 C51.3,269.1 50.9,265.3 50.4,264.4 C49.9,263.5 48.6,262.7 47.7,262.3 C46.8,261.9 44.6,261.4 43.3,261.3 C42.0,261.2 39.3,261.4 38.0,261.8 C36.7,262.2 34.5,263.7 33.6,264.4 C32.7,265.1 31.4,266.3 30.9,267.1 C30.4,267.9 30.5,269.9 30.0,270.2 C29.5,270.5 28.1,269.5 27.4,269.7 C26.7,269.9 25.3,270.8 24.7,271.5 C24.1,272.2 22.9,274.0 22.6,275.0 C22.3,276.0 22.5,278.4 22.1,279.0 C21.7,279.6 20.0,279.1 19.4,279.5 C18.8,279.9 17.8,281.2 17.3,282.1 C16.8,283.0 16.1,285.4 15.9,286.5 C15.7,287.6 15.9,289.4 15.6,290.0 C15.3,290.6 13.8,290.4 13.3,291.0 C12.8,291.6 12.2,293.3 12.0,294.5 C11.8,295.7 11.6,298.4 11.5,299.8 C11.4,301.2 11.1,303.4 11.0,305.1 C10.9,306.8 10.8,310.7 10.6,312.2 C10.4,313.7 10.0,315.1 9.7,316.0 C9.4,316.9 8.7,317.5 8.5,319.1 C8.3,320.7 8.0,325.6 8.0,328.0 C8.0,330.4 8.3,334.7 8.8,336.8 C9.3,338.9 10.6,342.4 11.5,343.9 C12.4,345.4 14.4,347.5 15.9,348.3 C17.4,349.1 21.0,349.9 23.0,350.1 C25.0,350.3 29.0,349.9 30.9,350.1 C32.8,350.3 35.4,351.7 37.1,351.8 C38.8,351.9 42.4,351.0 44.0,350.5 C45.6,350.0 47.9,348.7 49.0,348.0 C50.1,347.3 51.4,346.1 52.0,345.0 C52.6,343.9 53.0,341.3 53.2,340.0 C53.4,338.7 53.4,335.3 53.6,335.0 C53.8,334.7 54.8,336.7 55.0,338.0 C55.2,339.3 55.7,343.4 55.3,345.0 C54.9,346.6 52.7,349.1 52.0,350.3 C51.3,351.5 50.3,353.1 50.1,354.1 C49.9,355.1 50.2,356.7 50.7,357.9 C51.2,359.1 52.8,361.7 53.9,362.9 C55.0,364.1 57.6,365.9 58.9,366.7 C60.2,367.5 62.7,368.4 64.0,368.6 C65.3,368.8 67.5,368.2 69.0,368.0 C70.5,367.8 73.9,368.0 75.4,367.3 C76.9,366.6 79.2,364.2 80.4,362.9 C81.6,361.6 83.4,359.2 84.2,357.9 C85.0,356.6 86.1,354.1 86.1,352.8 C86.1,351.5 84.7,349.2 84.2,347.8 C83.7,346.4 82.6,343.7 82.3,342.1 C82.0,340.5 81.7,337.0 81.8,336.0 C81.9,335.0 82.7,334.1 83.0,334.5 C83.3,334.9 83.8,337.4 84.0,339.0 C84.2,340.6 84.3,345.0 84.8,346.5 C85.3,348.0 86.9,349.6 88.0,350.3 C89.1,351.0 92.0,351.3 93.0,351.6 C94.0,351.9 93.9,352.4 95.4,352.4 C96.9,352.4 102.1,352.1 104.2,351.8 C106.3,351.5 109.4,350.4 111.3,350.1 C113.2,349.8 116.5,349.7 118.3,349.2 C120.1,348.7 123.3,347.7 124.5,346.5 C125.7,345.3 126.7,342.4 127.2,340.4 C127.7,338.4 128.0,333.9 128.1,331.5 C128.2,329.1 128.2,325.0 128.1,322.7 C128.0,320.4 127.6,315.9 127.5,314.0 C127.4,312.1 127.3,309.8 127.1,308.2 C126.9,306.6 126.4,303.3 126.1,301.7 C125.8,300.1 125.4,297.6 125.0,296.1 C124.6,294.6 123.9,291.8 123.4,290.4 C122.9,289.0 121.7,286.8 121.0,285.6 C120.3,284.4 119.2,282.5 118.5,281.5 C117.8,280.5 116.8,279.2 116.1,278.3 C115.4,277.4 113.9,275.9 112.9,275.0 C111.9,274.1 109.8,272.4 108.8,271.8 C107.8,271.2 106.2,270.7 105.6,270.2 C105.0,269.7 104.7,268.5 104.0,267.8 C103.3,267.1 101.6,265.6 100.7,264.9 C99.8,264.2 98.4,263.2 97.5,262.9 C96.6,262.6 95.0,263.2 94.3,262.9 C93.6,262.6 92.7,261.1 91.9,260.5 C91.1,259.9 89.7,258.8 88.6,258.4 C87.5,258.0 84.8,257.7 83.8,257.8 C82.8,257.9 82.1,259.0 81.4,258.9 C80.7,258.8 79.8,257.7 78.9,257.3 C78.0,256.9 76.0,256.2 74.9,256.1 C73.8,256.0 71.6,256.0 70.8,256.5 C70.0,257.0 68.9,257.9 68.6,259.7 C68.3,261.5 68.5,267.2 68.5,270.0 C68.5,272.8 68.8,279.5 68.6,281.0 C68.4,282.5 67.4,282.5 67.2,281.0 Z" fill="#adadad" stroke="#8a8a8a" stroke-width="1" filter="url(#soft)"/>
<g clip-path="url(#cp2)">
<path d="M67.2,281.0 C67.0,279.5 67.2,272.8 67.3,270.0 C67.4,267.2 67.9,261.9 67.6,260.0 C67.3,258.1 66.3,256.6 65.4,256.0 C64.5,255.4 62.2,255.3 61.0,255.3 C59.8,255.3 57.5,255.6 56.6,256.0 C55.7,256.4 54.4,257.4 53.9,258.3 C53.4,259.2 52.8,261.3 52.5,262.7 C52.2,264.1 51.9,268.7 51.6,268.9 C51.3,269.1 50.9,265.3 50.4,264.4 C49.9,263.5 48.6,262.7 47.7,262.3 C46.8,261.9 44.6,261.4 43.3,261.3 C42.0,261.2 39.3,261.4 38.0,261.8 C36.7,262.2 34.5,263.7 33.6,264.4 C32.7,265.1 31.4,266.3 30.9,267.1 C30.4,267.9 30.5,269.9 30.0,270.2 C29.5,270.5 28.1,269.5 27.4,269.7 C26.7,269.9 25.3,270.8 24.7,271.5 C24.1,272.2 22.9,274.0 22.6,275.0 C22.3,276.0 22.5,278.4 22.1,279.0 C21.7,279.6 20.0,279.1 19.4,279.5 C18.8,279.9 17.8,281.2 17.3,282.1 C16.8,283.0 16.1,285.4 15.9,286.5 C15.7,287.6 15.9,289.4 15.6,290.0 C15.3,290.6 13.8,290.4 13.3,291.0 C12.8,291.6 12.2,293.3 12.0,294.5 C11.8,295.7 11.6,298.4 11.5,299.8 C11.4,301.2 11.1,303.4 11.0,305.1 C10.9,306.8 10.8,310.7 10.6,312.2 C10.4,313.7 10.0,315.1 9.7,316.0 C9.4,316.9 8.7,317.5 8.5,319.1 C8.3,320.7 8.0,325.6 8.0,328.0 C8.0,330.4 8.3,334.7 8.8,336.8 C9.3,338.9 10.6,342.4 11.5,343.9 C12.4,345.4 14.4,347.5 15.9,348.3 C17.4,349.1 21.0,349.9 23.0,350.1 C25.0,350.3 29.0,349.9 30.9,350.1 C32.8,350.3 35.4,351.7 37.1,351.8 C38.8,351.9 42.4,351.0 44.0,350.5 C45.6,350.0 47.9,348.7 49.0,348.0 C50.1,347.3 51.4,346.1 52.0,345.0 C52.6,343.9 53.0,341.3 53.2,340.0 C53.4,338.7 53.4,335.3 53.6,335.0 C53.8,334.7 54.8,336.7 55.0,338.0 C55.2,339.3 55.7,343.4 55.3,345.0 C54.9,346.6 52.7,349.1 52.0,350.3 C51.3,351.5 50.3,353.1 50.1,354.1 C49.9,355.1 50.2,356.7 50.7,357.9 C51.2,359.1 52.8,361.7 53.9,362.9 C55.0,364.1 57.6,365.9 58.9,366.7 C60.2,367.5 62.7,368.4 64.0,368.6 C65.3,368.8 67.5,368.2 69.0,368.0 C70.5,367.8 73.9,368.0 75.4,367.3 C76.9,366.6 79.2,364.2 80.4,362.9 C81.6,361.6 83.4,359.2 84.2,357.9 C85.0,356.6 86.1,354.1 86.1,352.8 C86.1,351.5 84.7,349.2 84.2,347.8 C83.7,346.4 82.6,343.7 82.3,342.1 C82.0,340.5 81.7,337.0 81.8,336.0 C81.9,335.0 82.7,334.1 83.0,334.5 C83.3,334.9 83.8,337.4 84.0,339.0 C84.2,340.6 84.3,345.0 84.8,346.5 C85.3,348.0 86.9,349.6 88.0,350.3 C89.1,351.0 92.0,351.3 93.0,351.6 C94.0,351.9 93.9,352.4 95.4,352.4 C96.9,352.4 102.1,352.1 104.2,351.8 C106.3,351.5 109.4,350.4 111.3,350.1 C113.2,349.8 116.5,349.7 118.3,349.2 C120.1,348.7 123.3,347.7 124.5,346.5 C125.7,345.3 126.7,342.4 127.2,340.4 C127.7,338.4 128.0,333.9 128.1,331.5 C128.2,329.1 128.2,325.0 128.1,322.7 C128.0,320.4 127.6,315.9 127.5,314.0 C127.4,312.1 127.3,309.8 127.1,308.2 C126.9,306.6 126.4,303.3 126.1,301.7 C125.8,300.1 125.4,297.6 125.0,296.1 C124.6,294.6 123.9,291.8 123.4,290.4 C122.9,289.0 121.7,286.8 121.0,285.6 C120.3,284.4 119.2,282.5 118.5,281.5 C117.8,280.5 116.8,279.2 116.1,278.3 C115.4,277.4 113.9,275.9 112.9,275.0 C111.9,274.1 109.8,272.4 108.8,271.8 C107.8,271.2 106.2,270.7 105.6,270.2 C105.0,269.7 104.7,268.5 104.0,267.8 C103.3,267.1 101.6,265.6 100.7,264.9 C99.8,264.2 98.4,263.2 97.5,262.9 C96.6,262.6 95.0,263.2 94.3,262.9 C93.6,262.6 92.7,261.1 91.9,260.5 C91.1,259.9 89.7,258.8 88.6,258.4 C87.5,258.0 84.8,257.7 83.8,257.8 C82.8,257.9 82.1,259.0 81.4,258.9 C80.7,258.8 79.8,257.7 78.9,257.3 C78.0,256.9 76.0,256.2 74.9,256.1 C73.8,256.0 71.6,256.0 70.8,256.5 C70.0,257.0 68.9,257.9 68.6,259.7 C68.3,261.5 68.5,267.2 68.5,270.0 C68.5,272.8 68.8,279.5 68.6,281.0 C68.4,282.5 67.4,282.5 67.2,281.0 Z" fill="#dedede" filter="url(#erode)"/>
<g filter="url(#soft3)">
</g><g filter="url(#soft2)" fill="none" stroke-linecap="round" stroke-linejoin="round">
<path d="M11.0,327.0 C13.5,327.2 23.5,327.8 26.0,328.0 " stroke="#a0a0a0" stroke-width="6"/>
<path d="M11.0,338.0 C13.5,338.0 23.5,338.0 26.0,338.0 " stroke="#a0a0a0" stroke-width="9"/>
<path d="M34.0,341.0 C34.0,342.2 34.0,346.8 34.0,348.0 " stroke="#a0a0a0" stroke-width="6"/>
<path d="M37.0,336.0 C39.2,336.2 47.8,336.8 50.0,337.0 " stroke="#a0a0a0" stroke-width="8"/>
<path d="M41.0,345.0 C42.5,345.0 48.5,345.0 50.0,345.0 " stroke="#a0a0a0" stroke-width="5"/>
<path d="M12.0,318.0 C13.7,318.3 20.3,319.7 22.0,320.0 " stroke="#a0a0a0" stroke-width="5"/>
<path d="M110.0,324.0 C112.2,324.0 120.8,324.0 123.0,324.0 " stroke="#a0a0a0" stroke-width="5"/>
<path d="M112.0,331.0 C114.0,331.0 122.0,331.0 124.0,331.0 " stroke="#a0a0a0" stroke-width="5.5"/>
<path d="M113.0,340.0 C115.0,340.0 123.0,340.0 125.0,340.0 " stroke="#a0a0a0" stroke-width="6"/>
<path d="M103.0,341.0 C103.0,342.2 103.0,346.8 103.0,348.0 " stroke="#a0a0a0" stroke-width="5"/>
<path d="M89.0,344.0 C90.7,344.0 97.3,344.0 99.0,344.0 " stroke="#a0a0a0" stroke-width="8"/>
<path d="M92.0,334.0 C93.5,334.0 99.5,334.0 101.0,334.0 " stroke="#a0a0a0" stroke-width="6"/>
<path d="M97.0,312.0 C98.0,313.3 102.0,318.7 103.0,320.0 " stroke="#a0a0a0" stroke-width="5"/>
<path d="M51.6,268.0 C51.6,269.3 51.6,273.3 51.6,276.0 C51.6,278.7 51.8,282.7 51.8,284.0 " stroke="#a0a0a0" stroke-width="5"/>
<path d="M30.0,270.2 C30.8,271.2 33.2,274.0 35.0,276.0 C36.8,278.0 40.0,281.0 41.0,282.0 " stroke="#a0a0a0" stroke-width="5"/>
<path d="M22.1,279.0 C23.1,279.8 26.0,282.2 28.0,284.0 C30.0,285.8 33.0,289.0 34.0,290.0 " stroke="#a0a0a0" stroke-width="5"/>
<path d="M15.6,290.0 C16.5,290.7 18.9,292.7 21.0,294.0 C23.1,295.3 26.8,297.3 28.0,298.0 " stroke="#a0a0a0" stroke-width="5"/>
<path d="M11.0,305.0 C12.2,305.2 15.7,305.7 18.0,306.0 C20.3,306.3 23.8,306.8 25.0,307.0 " stroke="#a0a0a0" stroke-width="4.5"/>
<path d="M81.4,258.9 C81.5,260.1 81.8,263.6 82.0,266.0 C82.2,268.4 82.4,271.8 82.5,273.0 " stroke="#a0a0a0" stroke-width="5"/>
<path d="M94.3,262.9 C93.9,264.1 92.9,267.6 92.0,270.0 C91.1,272.4 89.5,275.8 89.0,277.0 " stroke="#a0a0a0" stroke-width="5"/>
<path d="M105.6,270.2 C104.7,271.3 101.8,274.7 100.0,277.0 C98.2,279.3 95.8,282.8 95.0,284.0 " stroke="#a0a0a0" stroke-width="5.5"/>
<path d="M118.5,281.5 C117.2,282.2 113.4,284.2 111.0,286.0 C108.6,287.8 105.2,291.0 104.0,292.0 " stroke="#a0a0a0" stroke-width="6"/>
<path d="M125.0,296.0 C123.8,296.3 120.3,297.2 118.0,298.0 C115.7,298.8 112.2,300.5 111.0,301.0 " stroke="#a0a0a0" stroke-width="5"/>
<path d="M58.0,259.0 C58.2,260.5 58.7,265.2 59.0,268.0 C59.3,270.8 59.8,274.7 60.0,276.0 " stroke="#a0a0a0" stroke-width="4"/>
<path d="M75.0,260.0 C75.2,261.3 75.7,265.3 76.0,268.0 C76.3,270.7 76.8,274.7 77.0,276.0 " stroke="#a0a0a0" stroke-width="4.5"/>
<path d="M60.0,286.0 C60.7,286.3 63.3,287.7 64.0,288.0 " stroke="#a0a0a0" stroke-width="4"/>
<path d="M71.0,288.0 C71.7,287.7 74.3,286.3 75.0,286.0 " stroke="#a0a0a0" stroke-width="4"/>
<path d="M15.0,311.0 C18.8,311.0 34.2,311.0 38.0,311.0 " stroke="#bcbcbc" stroke-width="13"/>
<path d="M100.0,305.0 C103.0,305.0 115.0,305.0 118.0,305.0 " stroke="#bcbcbc" stroke-width="10"/>
<path d="M67.8,257.0 C67.8,258.5 67.9,263.2 67.9,266.0 C67.9,268.8 68.0,271.3 68.0,274.0 C68.0,276.7 68.1,280.7 68.1,282.0 " stroke="#b2b2b2" stroke-width="4.5"/>
</g><g filter="url(#soft2)">
<path d="M54.0,336.0 C55.2,333.0 57.3,331.3 60.0,330.0 C62.7,328.7 66.7,327.8 70.0,328.0 C73.3,328.2 77.8,328.2 80.0,331.0 C82.2,333.8 82.0,341.3 83.0,345.0 C84.0,348.7 85.8,350.8 86.0,353.0 C86.2,355.2 85.3,355.8 84.0,358.0 C82.7,360.2 80.8,364.2 78.0,366.0 C75.2,367.8 70.7,368.7 67.0,368.5 C63.3,368.3 58.8,367.1 56.0,365.0 C53.2,362.9 51.0,358.8 50.5,356.0 C50.0,353.2 52.4,351.3 53.0,348.0 C53.6,344.7 52.8,339.0 54.0,336.0 Z" fill="#cacaca"/>
</g>
<g fill="none" stroke="#2a2a2a" stroke-linecap="round" filter="url(#soft)">
<path d="M31.0,273.5 C31.7,274.2 34.5,276.8 35.2,277.5 " stroke-width="1.7"/>
<path d="M23.0,280.5 C23.9,280.9 27.4,282.6 28.3,283.0 " stroke-width="1.7"/>
<path d="M113.0,288.0 C113.1,288.1 113.5,288.5 113.6,288.6 " stroke-width="2"/>
<path d="M14.0,327.0 C14.1,327.1 14.5,327.3 14.6,327.4 " stroke-width="2"/>
<path d="M49.2,332.2 C49.4,332.4 50.2,333.0 50.4,333.2 " stroke-width="2"/>
<path d="M84.0,332.2 C84.2,332.3 84.8,332.7 85.0,332.8 " stroke-width="2"/>
</g>
</g>
<path d="M67.8,257.0 C67.8,258.5 67.9,263.2 67.9,266.0 C67.9,268.8 68.0,271.3 68.0,274.0 C68.0,276.7 68.1,280.7 68.1,282.0 " stroke="#fdfdfd" stroke-width="1.6" fill="none" filter="url(#soft)"/>
<path d="M52.6,259.5 C52.5,260.4 52.0,263.2 51.8,265.0 C51.6,266.8 51.4,269.2 51.3,270.0 " stroke="#fbfbfb" stroke-width="1.5" stroke-linecap="round" fill="none" filter="url(#soft)"/>
<path d="M50.2,299.7 C50.5,299.0 52.5,298.0 53.2,297.9 C53.9,297.8 56.3,297.9 57.0,298.2 C57.7,298.5 59.5,299.9 60.0,300.5 C60.5,301.1 62.1,303.5 62.3,304.2 C62.4,304.9 61.9,306.8 61.5,307.3 C61.1,307.8 59.2,308.6 58.5,308.8 C57.8,309.0 55.4,309.6 54.7,309.5 C54.0,309.4 52.2,308.4 51.7,308.0 C51.2,307.6 50.4,305.8 50.2,305.0 C50.1,304.2 49.9,300.4 50.2,299.7 Z" fill="#0c0c0c" filter="url(#soft)"/>
<path d="M84.8,299.7 C84.5,299.0 82.5,298.0 81.8,297.9 C81.1,297.8 78.7,297.9 78.0,298.2 C77.3,298.5 75.5,299.9 75.0,300.5 C74.5,301.1 72.9,303.5 72.7,304.2 C72.5,304.9 73.1,306.8 73.5,307.3 C73.9,307.8 75.8,308.6 76.5,308.8 C77.2,309.0 79.6,309.6 80.3,309.5 C81.0,309.4 82.8,308.4 83.3,308.0 C83.8,307.6 84.6,305.8 84.8,305.0 C85.0,304.2 85.1,300.4 84.8,299.7 Z" fill="#0c0c0c" filter="url(#soft)"/>
<path d="M61.5,306.3 C62.8,305.8 73.2,305.8 74.5,306.3 C75.8,306.8 74.2,309.9 74.0,311.0 C73.8,312.1 72.8,315.9 72.5,317.0 C72.2,318.1 71.3,321.0 71.0,322.0 C70.7,323.0 69.9,326.2 69.5,326.7 C69.1,327.2 67.5,327.2 67.0,326.7 C66.5,326.2 65.3,323.0 65.0,322.0 C64.7,321.0 63.8,318.1 63.5,317.0 C63.2,315.9 62.2,312.1 62.0,311.0 C61.8,309.9 60.2,306.8 61.5,306.3 Z" fill="#0c0c0c" filter="url(#soft)"/>
<path d="M66.5,296.4 C66.8,296.2 69.2,296.2 69.5,296.4 C69.8,296.6 69.2,298.2 69.0,298.4 C68.8,298.6 67.2,298.6 67.0,298.4 C66.8,298.2 66.2,296.6 66.5,296.4 Z" fill="#0c0c0c" filter="url(#soft)"/>
<path d="M61.5,304.0 C62.0,304.4 63.5,305.8 64.5,306.5 C65.5,307.2 67.1,307.8 67.6,308.0 " stroke="#c6c6c6" stroke-width="1.3" fill="none" filter="url(#soft)"/>
<path d="M74.5,304.0 C73.9,304.4 72.2,305.8 71.0,306.5 C69.8,307.2 68.2,307.8 67.6,308.0 " stroke="#c6c6c6" stroke-width="1.3" fill="none" filter="url(#soft)"/>
<path d="M15.9,308.5 C16.2,308.1 20.1,308.6 20.5,308.5 C20.9,308.4 21.0,306.7 21.2,306.6 C21.4,306.5 23.7,306.5 23.9,306.6 C24.1,306.7 24.2,308.4 24.5,308.5 C24.8,308.6 28.3,308.1 28.6,308.5 C28.9,308.9 29.4,313.5 28.6,313.9 C27.8,314.3 16.7,314.3 15.9,313.9 C15.1,313.5 15.6,308.9 15.9,308.5 Z" fill="#c8122a"/>
<clipPath id="cp3"><path d="M415.0,271.0 C414.9,269.8 415.0,264.1 415.0,262.0 C415.0,259.9 415.1,256.4 414.8,255.0 C414.5,253.6 413.3,252.2 412.5,251.5 C411.7,250.8 409.5,250.1 408.5,250.0 C407.5,249.9 405.9,250.2 404.7,250.6 C403.5,251.0 400.4,252.2 399.5,253.2 C398.6,254.2 398.1,256.8 397.8,258.3 C397.5,259.8 397.4,264.1 396.9,264.3 C396.4,264.5 395.2,260.9 394.4,260.0 C393.6,259.1 392.2,257.9 390.9,257.4 C389.6,256.9 386.4,256.4 384.9,256.6 C383.4,256.8 380.9,258.5 379.8,259.2 C378.7,259.9 376.9,261.0 376.3,261.7 C375.7,262.4 376.1,263.8 375.5,264.3 C374.9,264.8 373.0,264.7 372.0,265.2 C371.0,265.7 368.6,266.9 367.7,267.7 C366.8,268.5 365.8,270.4 365.2,271.2 C364.6,272.0 364.2,273.0 363.5,273.8 C362.8,274.6 360.8,276.2 360.0,277.2 C359.2,278.2 358.0,280.4 357.4,281.5 C356.8,282.6 356.1,284.5 355.7,285.8 C355.3,287.1 354.7,289.5 354.5,290.9 C354.3,292.3 354.1,294.7 354.0,296.1 C353.9,297.5 353.6,299.6 353.5,301.2 C353.4,302.8 353.3,306.4 353.2,308.1 C353.1,309.8 353.1,312.8 352.9,314.0 C352.7,315.2 352.3,316.1 352.0,317.0 C351.7,317.9 350.9,319.3 350.4,320.8 C349.9,322.3 348.8,326.4 348.5,328.4 C348.2,330.4 348.2,334.0 348.5,336.0 C348.8,338.0 349.8,341.7 350.4,343.6 C351.0,345.5 352.2,348.8 353.3,350.2 C354.4,351.6 356.9,353.4 358.9,354.0 C360.9,354.6 366.1,354.6 368.4,354.9 C370.7,355.2 374.0,355.6 376.0,355.9 C378.0,356.2 381.6,356.8 383.6,356.8 C385.6,356.8 389.5,356.4 391.1,355.9 C392.7,355.4 394.9,353.9 395.9,353.0 C396.9,352.1 398.5,349.1 398.7,349.2 C398.9,349.3 397.7,352.8 397.5,354.0 C397.3,355.2 397.0,356.9 397.2,358.0 C397.4,359.1 398.3,361.3 399.0,362.5 C399.7,363.7 401.4,365.9 402.5,367.0 C403.6,368.1 405.7,370.1 407.0,371.0 C408.3,371.9 410.8,373.3 412.0,373.8 C413.2,374.3 414.8,374.5 416.0,374.5 C417.2,374.5 419.7,374.0 421.0,373.5 C422.3,373.0 424.8,371.9 426.0,371.0 C427.2,370.1 429.1,368.1 430.0,367.0 C430.9,365.9 432.6,363.8 433.0,362.5 C433.4,361.2 432.9,358.7 432.8,357.0 C432.7,355.3 432.1,351.9 432.0,350.0 C431.9,348.1 432.0,344.7 432.3,343.0 C432.6,341.3 433.5,337.9 434.0,337.5 C434.5,337.1 435.7,338.9 436.0,340.0 C436.3,341.1 436.3,344.5 436.5,346.0 C436.7,347.5 437.0,349.9 437.5,351.0 C438.0,352.1 439.1,353.5 440.0,354.0 C440.9,354.5 442.5,354.5 444.1,354.9 C445.7,355.3 449.7,356.5 451.7,356.8 C453.7,357.1 457.2,356.8 459.2,356.8 C461.2,356.8 464.8,357.1 466.8,356.8 C468.8,356.5 472.6,355.8 474.4,354.9 C476.2,354.0 479.0,351.7 480.1,350.2 C481.2,348.7 482.0,345.7 482.5,343.6 C483.0,341.5 483.4,336.6 483.5,334.1 C483.6,331.6 483.1,326.7 482.9,324.6 C482.7,322.5 482.0,319.8 481.8,318.0 C481.6,316.2 481.3,313.0 481.2,311.4 C481.1,309.8 481.0,307.5 480.8,306.1 C480.6,304.7 480.1,302.2 479.8,300.8 C479.5,299.4 478.9,296.9 478.5,295.5 C478.1,294.1 477.3,291.6 476.8,290.2 C476.3,288.8 475.6,286.3 475.0,284.9 C474.4,283.5 473.0,280.9 472.3,279.6 C471.6,278.3 470.5,276.4 469.7,275.2 C468.9,274.0 467.2,271.8 466.1,270.7 C465.0,269.6 462.8,267.6 461.7,266.9 C460.6,266.2 459.1,266.1 458.2,265.4 C457.3,264.7 455.8,262.7 454.7,261.9 C453.6,261.1 451.3,259.8 450.2,259.3 C449.1,258.8 447.6,258.9 446.7,258.4 C445.8,257.9 444.3,256.5 443.2,255.7 C442.1,254.9 440.0,253.3 438.7,252.7 C437.4,252.1 434.6,251.4 433.4,251.3 C432.2,251.2 430.7,252.2 429.9,252.2 C429.1,252.2 428.2,251.2 427.3,251.0 C426.4,250.8 424.0,250.2 422.8,250.4 C421.6,250.6 419.3,251.6 418.4,252.2 C417.5,252.8 416.6,253.7 416.3,255.0 C416.0,256.3 416.2,259.9 416.2,262.0 C416.2,264.1 416.3,269.8 416.1,271.0 C415.9,272.2 415.1,272.2 415.0,271.0 Z"/></clipPath>
<path d="M415.0,271.0 C414.9,269.8 415.0,264.1 415.0,262.0 C415.0,259.9 415.1,256.4 414.8,255.0 C414.5,253.6 413.3,252.2 412.5,251.5 C411.7,250.8 409.5,250.1 408.5,250.0 C407.5,249.9 405.9,250.2 404.7,250.6 C403.5,251.0 400.4,252.2 399.5,253.2 C398.6,254.2 398.1,256.8 397.8,258.3 C397.5,259.8 397.4,264.1 396.9,264.3 C396.4,264.5 395.2,260.9 394.4,260.0 C393.6,259.1 392.2,257.9 390.9,257.4 C389.6,256.9 386.4,256.4 384.9,256.6 C383.4,256.8 380.9,258.5 379.8,259.2 C378.7,259.9 376.9,261.0 376.3,261.7 C375.7,262.4 376.1,263.8 375.5,264.3 C374.9,264.8 373.0,264.7 372.0,265.2 C371.0,265.7 368.6,266.9 367.7,267.7 C366.8,268.5 365.8,270.4 365.2,271.2 C364.6,272.0 364.2,273.0 363.5,273.8 C362.8,274.6 360.8,276.2 360.0,277.2 C359.2,278.2 358.0,280.4 357.4,281.5 C356.8,282.6 356.1,284.5 355.7,285.8 C355.3,287.1 354.7,289.5 354.5,290.9 C354.3,292.3 354.1,294.7 354.0,296.1 C353.9,297.5 353.6,299.6 353.5,301.2 C353.4,302.8 353.3,306.4 353.2,308.1 C353.1,309.8 353.1,312.8 352.9,314.0 C352.7,315.2 352.3,316.1 352.0,317.0 C351.7,317.9 350.9,319.3 350.4,320.8 C349.9,322.3 348.8,326.4 348.5,328.4 C348.2,330.4 348.2,334.0 348.5,336.0 C348.8,338.0 349.8,341.7 350.4,343.6 C351.0,345.5 352.2,348.8 353.3,350.2 C354.4,351.6 356.9,353.4 358.9,354.0 C360.9,354.6 366.1,354.6 368.4,354.9 C370.7,355.2 374.0,355.6 376.0,355.9 C378.0,356.2 381.6,356.8 383.6,356.8 C385.6,356.8 389.5,356.4 391.1,355.9 C392.7,355.4 394.9,353.9 395.9,353.0 C396.9,352.1 398.5,349.1 398.7,349.2 C398.9,349.3 397.7,352.8 397.5,354.0 C397.3,355.2 397.0,356.9 397.2,358.0 C397.4,359.1 398.3,361.3 399.0,362.5 C399.7,363.7 401.4,365.9 402.5,367.0 C403.6,368.1 405.7,370.1 407.0,371.0 C408.3,371.9 410.8,373.3 412.0,373.8 C413.2,374.3 414.8,374.5 416.0,374.5 C417.2,374.5 419.7,374.0 421.0,373.5 C422.3,373.0 424.8,371.9 426.0,371.0 C427.2,370.1 429.1,368.1 430.0,367.0 C430.9,365.9 432.6,363.8 433.0,362.5 C433.4,361.2 432.9,358.7 432.8,357.0 C432.7,355.3 432.1,351.9 432.0,350.0 C431.9,348.1 432.0,344.7 432.3,343.0 C432.6,341.3 433.5,337.9 434.0,337.5 C434.5,337.1 435.7,338.9 436.0,340.0 C436.3,341.1 436.3,344.5 436.5,346.0 C436.7,347.5 437.0,349.9 437.5,351.0 C438.0,352.1 439.1,353.5 440.0,354.0 C440.9,354.5 442.5,354.5 444.1,354.9 C445.7,355.3 449.7,356.5 451.7,356.8 C453.7,357.1 457.2,356.8 459.2,356.8 C461.2,356.8 464.8,357.1 466.8,356.8 C468.8,356.5 472.6,355.8 474.4,354.9 C476.2,354.0 479.0,351.7 480.1,350.2 C481.2,348.7 482.0,345.7 482.5,343.6 C483.0,341.5 483.4,336.6 483.5,334.1 C483.6,331.6 483.1,326.7 482.9,324.6 C482.7,322.5 482.0,319.8 481.8,318.0 C481.6,316.2 481.3,313.0 481.2,311.4 C481.1,309.8 481.0,307.5 480.8,306.1 C480.6,304.7 480.1,302.2 479.8,300.8 C479.5,299.4 478.9,296.9 478.5,295.5 C478.1,294.1 477.3,291.6 476.8,290.2 C476.3,288.8 475.6,286.3 475.0,284.9 C474.4,283.5 473.0,280.9 472.3,279.6 C471.6,278.3 470.5,276.4 469.7,275.2 C468.9,274.0 467.2,271.8 466.1,270.7 C465.0,269.6 462.8,267.6 461.7,266.9 C460.6,266.2 459.1,266.1 458.2,265.4 C457.3,264.7 455.8,262.7 454.7,261.9 C453.6,261.1 451.3,259.8 450.2,259.3 C449.1,258.8 447.6,258.9 446.7,258.4 C445.8,257.9 444.3,256.5 443.2,255.7 C442.1,254.9 440.0,253.3 438.7,252.7 C437.4,252.1 434.6,251.4 433.4,251.3 C432.2,251.2 430.7,252.2 429.9,252.2 C429.1,252.2 428.2,251.2 427.3,251.0 C426.4,250.8 424.0,250.2 422.8,250.4 C421.6,250.6 419.3,251.6 418.4,252.2 C417.5,252.8 416.6,253.7 416.3,255.0 C416.0,256.3 416.2,259.9 416.2,262.0 C416.2,264.1 416.3,269.8 416.1,271.0 C415.9,272.2 415.1,272.2 415.0,271.0 Z" fill="none" stroke="#f6f6f6" stroke-width="9" filter="url(#soft3)"/>
<path d="M415.0,271.0 C414.9,269.8 415.0,264.1 415.0,262.0 C415.0,259.9 415.1,256.4 414.8,255.0 C414.5,253.6 413.3,252.2 412.5,251.5 C411.7,250.8 409.5,250.1 408.5,250.0 C407.5,249.9 405.9,250.2 404.7,250.6 C403.5,251.0 400.4,252.2 399.5,253.2 C398.6,254.2 398.1,256.8 397.8,258.3 C397.5,259.8 397.4,264.1 396.9,264.3 C396.4,264.5 395.2,260.9 394.4,260.0 C393.6,259.1 392.2,257.9 390.9,257.4 C389.6,256.9 386.4,256.4 384.9,256.6 C383.4,256.8 380.9,258.5 379.8,259.2 C378.7,259.9 376.9,261.0 376.3,261.7 C375.7,262.4 376.1,263.8 375.5,264.3 C374.9,264.8 373.0,264.7 372.0,265.2 C371.0,265.7 368.6,266.9 367.7,267.7 C366.8,268.5 365.8,270.4 365.2,271.2 C364.6,272.0 364.2,273.0 363.5,273.8 C362.8,274.6 360.8,276.2 360.0,277.2 C359.2,278.2 358.0,280.4 357.4,281.5 C356.8,282.6 356.1,284.5 355.7,285.8 C355.3,287.1 354.7,289.5 354.5,290.9 C354.3,292.3 354.1,294.7 354.0,296.1 C353.9,297.5 353.6,299.6 353.5,301.2 C353.4,302.8 353.3,306.4 353.2,308.1 C353.1,309.8 353.1,312.8 352.9,314.0 C352.7,315.2 352.3,316.1 352.0,317.0 C351.7,317.9 350.9,319.3 350.4,320.8 C349.9,322.3 348.8,326.4 348.5,328.4 C348.2,330.4 348.2,334.0 348.5,336.0 C348.8,338.0 349.8,341.7 350.4,343.6 C351.0,345.5 352.2,348.8 353.3,350.2 C354.4,351.6 356.9,353.4 358.9,354.0 C360.9,354.6 366.1,354.6 368.4,354.9 C370.7,355.2 374.0,355.6 376.0,355.9 C378.0,356.2 381.6,356.8 383.6,356.8 C385.6,356.8 389.5,356.4 391.1,355.9 C392.7,355.4 394.9,353.9 395.9,353.0 C396.9,352.1 398.5,349.1 398.7,349.2 C398.9,349.3 397.7,352.8 397.5,354.0 C397.3,355.2 397.0,356.9 397.2,358.0 C397.4,359.1 398.3,361.3 399.0,362.5 C399.7,363.7 401.4,365.9 402.5,367.0 C403.6,368.1 405.7,370.1 407.0,371.0 C408.3,371.9 410.8,373.3 412.0,373.8 C413.2,374.3 414.8,374.5 416.0,374.5 C417.2,374.5 419.7,374.0 421.0,373.5 C422.3,373.0 424.8,371.9 426.0,371.0 C427.2,370.1 429.1,368.1 430.0,367.0 C430.9,365.9 432.6,363.8 433.0,362.5 C433.4,361.2 432.9,358.7 432.8,357.0 C432.7,355.3 432.1,351.9 432.0,350.0 C431.9,348.1 432.0,344.7 432.3,343.0 C432.6,341.3 433.5,337.9 434.0,337.5 C434.5,337.1 435.7,338.9 436.0,340.0 C436.3,341.1 436.3,344.5 436.5,346.0 C436.7,347.5 437.0,349.9 437.5,351.0 C438.0,352.1 439.1,353.5 440.0,354.0 C440.9,354.5 442.5,354.5 444.1,354.9 C445.7,355.3 449.7,356.5 451.7,356.8 C453.7,357.1 457.2,356.8 459.2,356.8 C461.2,356.8 464.8,357.1 466.8,356.8 C468.8,356.5 472.6,355.8 474.4,354.9 C476.2,354.0 479.0,351.7 480.1,350.2 C481.2,348.7 482.0,345.7 482.5,343.6 C483.0,341.5 483.4,336.6 483.5,334.1 C483.6,331.6 483.1,326.7 482.9,324.6 C482.7,322.5 482.0,319.8 481.8,318.0 C481.6,316.2 481.3,313.0 481.2,311.4 C481.1,309.8 481.0,307.5 480.8,306.1 C480.6,304.7 480.1,302.2 479.8,300.8 C479.5,299.4 478.9,296.9 478.5,295.5 C478.1,294.1 477.3,291.6 476.8,290.2 C476.3,288.8 475.6,286.3 475.0,284.9 C474.4,283.5 473.0,280.9 472.3,279.6 C471.6,278.3 470.5,276.4 469.7,275.2 C468.9,274.0 467.2,271.8 466.1,270.7 C465.0,269.6 462.8,267.6 461.7,266.9 C460.6,266.2 459.1,266.1 458.2,265.4 C457.3,264.7 455.8,262.7 454.7,261.9 C453.6,261.1 451.3,259.8 450.2,259.3 C449.1,258.8 447.6,258.9 446.7,258.4 C445.8,257.9 444.3,256.5 443.2,255.7 C442.1,254.9 440.0,253.3 438.7,252.7 C437.4,252.1 434.6,251.4 433.4,251.3 C432.2,251.2 430.7,252.2 429.9,252.2 C429.1,252.2 428.2,251.2 427.3,251.0 C426.4,250.8 424.0,250.2 422.8,250.4 C421.6,250.6 419.3,251.6 418.4,252.2 C417.5,252.8 416.6,253.7 416.3,255.0 C416.0,256.3 416.2,259.9 416.2,262.0 C416.2,264.1 416.3,269.8 416.1,271.0 C415.9,272.2 415.1,272.2 415.0,271.0 Z" fill="#adadad" stroke="#8a8a8a" stroke-width="1" filter="url(#soft)"/>
<g clip-path="url(#cp3)">
<path d="M415.0,271.0 C414.9,269.8 415.0,264.1 415.0,262.0 C415.0,259.9 415.1,256.4 414.8,255.0 C414.5,253.6 413.3,252.2 412.5,251.5 C411.7,250.8 409.5,250.1 408.5,250.0 C407.5,249.9 405.9,250.2 404.7,250.6 C403.5,251.0 400.4,252.2 399.5,253.2 C398.6,254.2 398.1,256.8 397.8,258.3 C397.5,259.8 397.4,264.1 396.9,264.3 C396.4,264.5 395.2,260.9 394.4,260.0 C393.6,259.1 392.2,257.9 390.9,257.4 C389.6,256.9 386.4,256.4 384.9,256.6 C383.4,256.8 380.9,258.5 379.8,259.2 C378.7,259.9 376.9,261.0 376.3,261.7 C375.7,262.4 376.1,263.8 375.5,264.3 C374.9,264.8 373.0,264.7 372.0,265.2 C371.0,265.7 368.6,266.9 367.7,267.7 C366.8,268.5 365.8,270.4 365.2,271.2 C364.6,272.0 364.2,273.0 363.5,273.8 C362.8,274.6 360.8,276.2 360.0,277.2 C359.2,278.2 358.0,280.4 357.4,281.5 C356.8,282.6 356.1,284.5 355.7,285.8 C355.3,287.1 354.7,289.5 354.5,290.9 C354.3,292.3 354.1,294.7 354.0,296.1 C353.9,297.5 353.6,299.6 353.5,301.2 C353.4,302.8 353.3,306.4 353.2,308.1 C353.1,309.8 353.1,312.8 352.9,314.0 C352.7,315.2 352.3,316.1 352.0,317.0 C351.7,317.9 350.9,319.3 350.4,320.8 C349.9,322.3 348.8,326.4 348.5,328.4 C348.2,330.4 348.2,334.0 348.5,336.0 C348.8,338.0 349.8,341.7 350.4,343.6 C351.0,345.5 352.2,348.8 353.3,350.2 C354.4,351.6 356.9,353.4 358.9,354.0 C360.9,354.6 366.1,354.6 368.4,354.9 C370.7,355.2 374.0,355.6 376.0,355.9 C378.0,356.2 381.6,356.8 383.6,356.8 C385.6,356.8 389.5,356.4 391.1,355.9 C392.7,355.4 394.9,353.9 395.9,353.0 C396.9,352.1 398.5,349.1 398.7,349.2 C398.9,349.3 397.7,352.8 397.5,354.0 C397.3,355.2 397.0,356.9 397.2,358.0 C397.4,359.1 398.3,361.3 399.0,362.5 C399.7,363.7 401.4,365.9 402.5,367.0 C403.6,368.1 405.7,370.1 407.0,371.0 C408.3,371.9 410.8,373.3 412.0,373.8 C413.2,374.3 414.8,374.5 416.0,374.5 C417.2,374.5 419.7,374.0 421.0,373.5 C422.3,373.0 424.8,371.9 426.0,371.0 C427.2,370.1 429.1,368.1 430.0,367.0 C430.9,365.9 432.6,363.8 433.0,362.5 C433.4,361.2 432.9,358.7 432.8,357.0 C432.7,355.3 432.1,351.9 432.0,350.0 C431.9,348.1 432.0,344.7 432.3,343.0 C432.6,341.3 433.5,337.9 434.0,337.5 C434.5,337.1 435.7,338.9 436.0,340.0 C436.3,341.1 436.3,344.5 436.5,346.0 C436.7,347.5 437.0,349.9 437.5,351.0 C438.0,352.1 439.1,353.5 440.0,354.0 C440.9,354.5 442.5,354.5 444.1,354.9 C445.7,355.3 449.7,356.5 451.7,356.8 C453.7,357.1 457.2,356.8 459.2,356.8 C461.2,356.8 464.8,357.1 466.8,356.8 C468.8,356.5 472.6,355.8 474.4,354.9 C476.2,354.0 479.0,351.7 480.1,350.2 C481.2,348.7 482.0,345.7 482.5,343.6 C483.0,341.5 483.4,336.6 483.5,334.1 C483.6,331.6 483.1,326.7 482.9,324.6 C482.7,322.5 482.0,319.8 481.8,318.0 C481.6,316.2 481.3,313.0 481.2,311.4 C481.1,309.8 481.0,307.5 480.8,306.1 C480.6,304.7 480.1,302.2 479.8,300.8 C479.5,299.4 478.9,296.9 478.5,295.5 C478.1,294.1 477.3,291.6 476.8,290.2 C476.3,288.8 475.6,286.3 475.0,284.9 C474.4,283.5 473.0,280.9 472.3,279.6 C471.6,278.3 470.5,276.4 469.7,275.2 C468.9,274.0 467.2,271.8 466.1,270.7 C465.0,269.6 462.8,267.6 461.7,266.9 C460.6,266.2 459.1,266.1 458.2,265.4 C457.3,264.7 455.8,262.7 454.7,261.9 C453.6,261.1 451.3,259.8 450.2,259.3 C449.1,258.8 447.6,258.9 446.7,258.4 C445.8,257.9 444.3,256.5 443.2,255.7 C442.1,254.9 440.0,253.3 438.7,252.7 C437.4,252.1 434.6,251.4 433.4,251.3 C432.2,251.2 430.7,252.2 429.9,252.2 C429.1,252.2 428.2,251.2 427.3,251.0 C426.4,250.8 424.0,250.2 422.8,250.4 C421.6,250.6 419.3,251.6 418.4,252.2 C417.5,252.8 416.6,253.7 416.3,255.0 C416.0,256.3 416.2,259.9 416.2,262.0 C416.2,264.1 416.3,269.8 416.1,271.0 C415.9,272.2 415.1,272.2 415.0,271.0 Z" fill="#dedede" filter="url(#erode)"/>
<g filter="url(#soft3)">
</g><g filter="url(#soft2)" fill="none" stroke-linecap="round" stroke-linejoin="round">
<path d="M354.0,322.0 C356.3,322.0 365.7,322.0 368.0,322.0 " stroke="#a0a0a0" stroke-width="5.5"/>
<path d="M354.0,329.5 C356.3,329.6 365.7,329.9 368.0,330.0 " stroke="#a0a0a0" stroke-width="5"/>
<path d="M354.0,342.0 C356.2,342.0 364.8,342.0 367.0,342.0 " stroke="#a0a0a0" stroke-width="8"/>
<path d="M377.0,346.0 C377.0,347.3 377.0,352.7 377.0,354.0 " stroke="#a0a0a0" stroke-width="5.5"/>
<path d="M381.0,342.0 C382.8,342.0 390.2,342.0 392.0,342.0 " stroke="#a0a0a0" stroke-width="7"/>
<path d="M464.0,327.0 C466.2,327.0 474.8,327.0 477.0,327.0 " stroke="#a0a0a0" stroke-width="5.5"/>
<path d="M464.0,335.0 C466.3,335.0 475.7,335.0 478.0,335.0 " stroke="#a0a0a0" stroke-width="5.5"/>
<path d="M465.0,344.5 C467.2,344.5 475.8,344.5 478.0,344.5 " stroke="#a0a0a0" stroke-width="6"/>
<path d="M456.0,346.0 C456.0,347.3 456.0,352.7 456.0,354.0 " stroke="#a0a0a0" stroke-width="5.5"/>
<path d="M442.0,350.0 C443.5,350.2 449.5,350.8 451.0,351.0 " stroke="#a0a0a0" stroke-width="6"/>
<path d="M441.0,339.0 C442.7,339.0 449.3,339.0 451.0,339.0 " stroke="#a0a0a0" stroke-width="6"/>
<path d="M396.9,264.0 C396.9,265.3 396.8,269.3 396.7,272.0 C396.6,274.7 396.5,278.7 396.5,280.0 " stroke="#a0a0a0" stroke-width="5"/>
<path d="M375.5,264.3 C376.4,265.2 379.1,268.1 381.0,270.0 C382.9,271.9 386.0,275.0 387.0,276.0 " stroke="#a0a0a0" stroke-width="5"/>
<path d="M363.5,273.8 C364.4,274.7 367.1,277.3 369.0,279.0 C370.9,280.7 374.0,283.2 375.0,284.0 " stroke="#a0a0a0" stroke-width="5"/>
<path d="M354.5,291.0 C355.6,291.3 358.8,292.2 361.0,293.0 C363.2,293.8 366.8,295.5 368.0,296.0 " stroke="#a0a0a0" stroke-width="5"/>
<path d="M429.9,252.2 C429.9,253.5 429.9,257.4 430.0,260.0 C430.1,262.6 430.4,266.7 430.5,268.0 " stroke="#a0a0a0" stroke-width="5"/>
<path d="M446.7,258.4 C446.1,259.7 444.3,263.4 443.0,266.0 C441.7,268.6 439.7,272.7 439.0,274.0 " stroke="#a0a0a0" stroke-width="5"/>
<path d="M458.2,265.4 C457.7,266.5 456.2,269.7 455.0,272.0 C453.8,274.3 451.7,277.8 451.0,279.0 " stroke="#a0a0a0" stroke-width="6"/>
<path d="M472.3,279.6 C471.1,280.5 467.4,283.3 465.0,285.0 C462.6,286.7 459.2,289.2 458.0,290.0 " stroke="#a0a0a0" stroke-width="7"/>
<path d="M478.5,296.0 C477.2,296.5 473.4,298.2 471.0,299.0 C468.6,299.8 465.2,300.7 464.0,301.0 " stroke="#a0a0a0" stroke-width="5"/>
<path d="M405.0,252.0 C405.1,253.7 405.3,259.0 405.5,262.0 C405.7,265.0 405.9,268.7 406.0,270.0 " stroke="#a0a0a0" stroke-width="4"/>
<path d="M423.0,252.0 C423.2,253.7 423.7,258.7 424.0,262.0 C424.3,265.3 424.8,270.3 425.0,272.0 " stroke="#a0a0a0" stroke-width="4.5"/>
<path d="M405.0,281.0 C405.8,281.3 409.2,282.7 410.0,283.0 " stroke="#a0a0a0" stroke-width="4"/>
<path d="M421.0,283.0 C421.8,282.7 425.2,281.3 426.0,281.0 " stroke="#a0a0a0" stroke-width="4"/>
<path d="M448.0,310.0 C452.7,310.0 471.3,310.0 476.0,310.0 " stroke="#bcbcbc" stroke-width="12"/>
<path d="M358.0,305.0 C361.3,305.0 374.7,305.0 378.0,305.0 " stroke="#bcbcbc" stroke-width="10"/>
<path d="M415.4,252.0 C415.4,253.3 415.5,257.7 415.6,260.0 C415.7,262.3 415.7,264.0 415.8,266.0 C415.9,268.0 416.0,271.0 416.0,272.0 " stroke="#b2b2b2" stroke-width="4.5"/>
</g><g filter="url(#soft2)">
<path d="M398.0,338.0 C399.2,333.3 401.3,333.8 405.0,333.0 C408.7,332.2 415.7,332.2 420.0,333.0 C424.3,333.8 429.2,335.2 431.0,338.0 C432.8,340.8 430.8,346.3 431.0,350.0 C431.2,353.7 432.7,356.7 432.0,360.0 C431.3,363.3 429.7,367.7 427.0,370.0 C424.3,372.3 419.7,373.8 416.0,374.0 C412.3,374.2 408.0,373.2 405.0,371.0 C402.0,368.8 399.2,366.5 398.0,361.0 C396.8,355.5 396.8,342.7 398.0,338.0 Z" fill="#cacaca"/>
</g>
<g fill="none" stroke="#2a2a2a" stroke-linecap="round" filter="url(#soft)">
<path d="M358.0,296.0 C358.4,297.1 360.1,301.4 360.5,302.5 " stroke-width="2.2"/>
<path d="M454.2,278.0 C454.8,276.9 457.2,272.6 457.8,271.5 " stroke-width="1.9"/>
<path d="M392.0,337.0 C392.5,337.7 393.9,339.7 395.0,341.0 C396.1,342.3 397.9,344.3 398.5,345.0 " stroke-width="1.9"/>
<path d="M358.0,342.4 C358.1,342.5 358.5,342.7 358.6,342.8 " stroke-width="2"/>
<path d="M415.0,279.2 C415.1,279.4 415.2,280.0 415.3,280.2 " stroke-width="2.2"/>
<path d="M448.0,313.0 C448.1,313.1 448.3,313.2 448.4,313.3 " stroke-width="2.2"/>
</g>
</g>
<path d="M415.4,252.0 C415.4,253.3 415.5,257.7 415.6,260.0 C415.7,262.3 415.7,264.0 415.8,266.0 C415.9,268.0 416.0,271.0 416.0,272.0 " stroke="#fdfdfd" stroke-width="1.6" fill="none" filter="url(#soft)"/>
<path d="M352.5,316.5 C353.3,316.8 356.7,318.0 357.5,318.3 " stroke="#fbfbfb" stroke-width="1.5" stroke-linecap="round" fill="none" filter="url(#soft)"/>
<path d="M398.8,255.0 C398.6,255.8 398.1,258.4 397.8,260.0 C397.5,261.6 397.1,263.8 397.0,264.5 " stroke="#fbfbfb" stroke-width="1.5" stroke-linecap="round" fill="none" filter="url(#soft)"/>
<path d="M376.2,260.8 C376.1,261.4 375.6,263.9 375.5,264.5 " stroke="#fbfbfb" stroke-width="1.5" stroke-linecap="round" fill="none" filter="url(#soft)"/>
<path d="M364.3,271.5 C364.2,271.9 363.6,273.6 363.5,274.0 " stroke="#fbfbfb" stroke-width="1.5" stroke-linecap="round" fill="none" filter="url(#soft)"/>
<path d="M396.3,299.4 C396.5,298.7 397.8,297.6 398.3,297.4 C398.9,297.2 401.0,297.5 401.8,297.8 C402.6,298.1 405.2,299.6 406.0,300.1 C406.8,300.6 409.5,302.3 410.1,302.9 C410.7,303.5 412.1,305.1 412.2,305.7 C412.3,306.3 411.4,308.1 410.8,308.5 C410.2,308.9 407.5,309.2 406.7,309.2 C405.9,309.2 403.3,308.7 402.5,308.5 C401.7,308.3 398.9,307.5 398.3,307.1 C397.7,306.7 396.5,305.1 396.3,304.3 C396.1,303.5 396.1,300.1 396.3,299.4 Z" fill="#0c0c0c" filter="url(#soft)"/>
<path d="M433.8,299.4 C433.6,298.8 432.3,297.6 431.7,297.4 C431.1,297.2 429.0,297.5 428.2,297.8 C427.4,298.1 424.8,299.6 424.0,300.1 C423.2,300.6 420.5,302.3 419.9,302.9 C419.3,303.5 417.9,305.1 417.8,305.7 C417.7,306.3 418.6,308.1 419.2,308.5 C419.8,308.9 423.1,309.2 424.0,309.2 C424.9,309.2 427.4,308.8 428.2,308.5 C429.0,308.2 431.8,307.0 432.4,306.4 C433.0,305.8 434.1,303.6 434.2,302.9 C434.3,302.2 434.1,299.9 433.8,299.4 Z" fill="#0c0c0c" filter="url(#soft)"/>
<path d="M410.8,307.5 C411.8,307.1 418.8,307.1 419.9,307.5 C420.9,307.9 421.4,311.2 421.3,311.9 C421.2,312.6 418.9,313.9 418.5,314.7 C418.1,315.5 417.9,318.9 417.8,320.3 C417.7,321.7 417.9,327.4 417.8,328.6 C417.7,329.9 416.8,332.4 416.4,332.8 C416.0,333.2 414.7,333.3 414.3,332.8 C413.9,332.3 413.0,329.1 412.9,327.9 C412.8,326.6 413.3,321.6 413.3,320.3 C413.3,319.0 413.2,315.5 412.9,314.7 C412.6,313.9 410.3,312.6 410.1,311.9 C409.9,311.2 409.8,307.9 410.8,307.5 Z" fill="#0c0c0c" filter="url(#soft)"/>
<path d="M414.3,295.3 C414.5,295.1 416.9,295.1 417.1,295.3 C417.3,295.5 416.8,297.2 416.6,297.4 C416.4,297.6 415.0,297.6 414.8,297.4 C414.6,297.2 414.1,295.5 414.3,295.3 Z" fill="#0c0c0c" filter="url(#soft)"/>
<path d="M410.5,304.6 C410.9,305.1 412.2,306.9 413.0,307.8 C413.8,308.7 414.8,309.6 415.2,310.0 " stroke="#c6c6c6" stroke-width="1.3" fill="none" filter="url(#soft)"/>
<path d="M420.2,304.6 C419.8,305.1 418.4,306.9 417.6,307.8 C416.8,308.7 415.6,309.6 415.2,310.0 " stroke="#c6c6c6" stroke-width="1.3" fill="none" filter="url(#soft)"/>
<path d="M449.4,306.5 C450.5,306.0 465.3,306.7 466.5,306.5 C467.7,306.3 466.8,303.5 467.0,303.3 C467.2,303.1 469.5,302.9 469.8,303.3 C470.1,303.7 470.2,308.3 470.8,308.7 C471.4,309.1 477.8,308.8 478.3,309.0 C478.8,309.2 478.8,311.7 478.3,311.9 C477.8,312.1 471.3,312.4 470.8,312.5 C470.3,312.6 472.2,313.9 470.8,314.0 C469.4,314.1 450.8,314.5 449.4,314.0 C448.0,313.5 448.3,307.0 449.4,306.5 Z" fill="#d0101e"/>
<line x1="163.1" y1="36.2" x2="163.1" y2="129.5" stroke="#b4b4b4" stroke-width="1"/>
<line x1="159.9" y1="36.2" x2="163.1" y2="36.2" stroke="#9a9a9a" stroke-width="1"/>
<text x="157.1" y="39.0" text-anchor="end" font-size="7.8" fill="#333">5</text>
<line x1="159.9" y1="59.5" x2="163.1" y2="59.5" stroke="#9a9a9a" stroke-width="1"/>
<text x="157.1" y="62.3" text-anchor="end" font-size="7.8" fill="#333">3</text>
<line x1="159.9" y1="82.8" x2="163.1" y2="82.8" stroke="#9a9a9a" stroke-width="1"/>
<text x="157.1" y="85.6" text-anchor="end" font-size="7.8" fill="#333">1</text>
<line x1="159.9" y1="106.2" x2="163.1" y2="106.2" stroke="#9a9a9a" stroke-width="1"/>
<text x="157.1" y="109.0" text-anchor="end" font-size="7.8" fill="#333">-1</text>
<line x1="159.9" y1="129.5" x2="163.1" y2="129.5" stroke="#9a9a9a" stroke-width="1"/>
<text x="157.1" y="132.3" text-anchor="end" font-size="7.8" fill="#333">-3</text>
<text transform="translate(144.8,82.7) rotate(-90) scale(0.915,1)" text-anchor="middle" font-size="10.2" fill="#2a2a2a" stroke="#2a2a2a" stroke-width="0.2">beta (stimulus – no stimulus)</text>
<circle cx="174.4" cy="61.4" r="1.7" fill="#1b9e77"/>
<circle cx="175.6" cy="69.8" r="1.7" fill="#1b9e77"/>
<circle cx="178.9" cy="70.9" r="1.7" fill="#1b9e77"/>
<circle cx="172.4" cy="74.2" r="1.7" fill="#1b9e77"/>
<circle cx="175.2" cy="78.5" r="1.7" fill="#1b9e77"/>
<circle cx="176.4" cy="79.2" r="1.7" fill="#1b9e77"/>
<circle cx="173.6" cy="80.8" r="1.7" fill="#1b9e77"/>
<circle cx="172.1" cy="83.0" r="1.7" fill="#1b9e77"/>
<circle cx="179.7" cy="82.3" r="1.7" fill="#1b9e77"/>
<circle cx="180.5" cy="84.5" r="1.7" fill="#1b9e77"/>
<circle cx="178.2" cy="86.8" r="1.7" fill="#1b9e77"/>
<circle cx="181.2" cy="87.6" r="1.7" fill="#1b9e77"/>
<circle cx="179.0" cy="89.0" r="1.7" fill="#1b9e77"/>
<circle cx="174.4" cy="90.6" r="1.7" fill="#1b9e77"/>
<circle cx="179.7" cy="91.4" r="1.7" fill="#1b9e77"/>
<circle cx="181.2" cy="92.1" r="1.7" fill="#1b9e77"/>
<circle cx="175.2" cy="92.1" r="1.7" fill="#1b9e77"/>
<circle cx="178.2" cy="93.6" r="1.7" fill="#1b9e77"/>
<circle cx="181.2" cy="94.4" r="1.7" fill="#1b9e77"/>
<circle cx="177.4" cy="95.2" r="1.7" fill="#1b9e77"/>
<circle cx="171.4" cy="96.7" r="1.7" fill="#1b9e77"/>
<circle cx="173.6" cy="97.4" r="1.7" fill="#1b9e77"/>
<circle cx="179.7" cy="98.9" r="1.7" fill="#1b9e77"/>
<circle cx="172.1" cy="100.5" r="1.7" fill="#1b9e77"/>
<circle cx="171.4" cy="101.2" r="1.7" fill="#1b9e77"/>
<circle cx="178.9" cy="100.5" r="1.7" fill="#1b9e77"/>
<circle cx="178.2" cy="103.2" r="1.7" fill="#1b9e77"/>
<circle cx="177.9" cy="112.6" r="1.7" fill="#1b9e77"/>
<circle cx="228.2" cy="48.6" r="1.7" fill="#d95f02"/>
<circle cx="228.6" cy="68.4" r="1.7" fill="#d95f02"/>
<circle cx="231.6" cy="68.4" r="1.7" fill="#d95f02"/>
<circle cx="224.8" cy="75.7" r="1.7" fill="#d95f02"/>
<circle cx="230.0" cy="74.5" r="1.7" fill="#d95f02"/>
<circle cx="232.3" cy="76.8" r="1.7" fill="#d95f02"/>
<circle cx="227.0" cy="79.8" r="1.7" fill="#d95f02"/>
<circle cx="229.3" cy="81.4" r="1.7" fill="#d95f02"/>
<circle cx="225.9" cy="83.2" r="1.7" fill="#d95f02"/>
<circle cx="233.9" cy="80.5" r="1.7" fill="#d95f02"/>
<circle cx="235.5" cy="84.3" r="1.7" fill="#d95f02"/>
<circle cx="235.0" cy="87.0" r="1.7" fill="#d95f02"/>
<circle cx="230.5" cy="87.7" r="1.7" fill="#d95f02"/>
<circle cx="225.5" cy="88.9" r="1.7" fill="#d95f02"/>
<circle cx="227.0" cy="91.1" r="1.7" fill="#d95f02"/>
<circle cx="231.6" cy="92.7" r="1.7" fill="#d95f02"/>
<circle cx="232.7" cy="94.5" r="1.7" fill="#d95f02"/>
<circle cx="235.0" cy="95.7" r="1.7" fill="#d95f02"/>
<circle cx="228.2" cy="95.7" r="1.7" fill="#d95f02"/>
<circle cx="224.8" cy="98.0" r="1.7" fill="#d95f02"/>
<circle cx="227.0" cy="99.1" r="1.7" fill="#d95f02"/>
<circle cx="233.9" cy="101.4" r="1.7" fill="#d95f02"/>
<circle cx="226.4" cy="102.5" r="1.7" fill="#d95f02"/>
<circle cx="234.5" cy="104.3" r="1.7" fill="#d95f02"/>
<circle cx="231.6" cy="105.9" r="1.7" fill="#d95f02"/>
<circle cx="229.3" cy="108.2" r="1.7" fill="#d95f02"/>
<circle cx="230.0" cy="113.9" r="1.7" fill="#d95f02"/>
<circle cx="227.0" cy="126.4" r="1.7" fill="#d95f02"/>
<line x1="257.1" y1="69.8" x2="257.1" y2="102.9" stroke="#3a3a3a" stroke-width="1"/>
<line x1="254.2" y1="69.8" x2="259.9" y2="69.8" stroke="#3a3a3a" stroke-width="1.2"/>
<line x1="254.2" y1="102.9" x2="259.9" y2="102.9" stroke="#3a3a3a" stroke-width="1.2"/>
<rect x="251.9" y="82.8" width="10.3" height="11.2" fill="#1b9e77" stroke="#3a3a3a" stroke-width="1"/>
<line x1="251.9" y1="89.8" x2="262.2" y2="89.8" stroke="#2a2a2a" stroke-width="2"/>
<line x1="278.4" y1="68.3" x2="278.4" y2="113.8" stroke="#3a3a3a" stroke-width="1"/>
<line x1="275.7" y1="68.3" x2="281.2" y2="68.3" stroke="#3a3a3a" stroke-width="1.2"/>
<line x1="275.7" y1="113.8" x2="281.2" y2="113.8" stroke="#3a3a3a" stroke-width="1.2"/>
<rect x="273.5" y="81.7" width="9.9" height="14.9" fill="#d95f02" stroke="#3a3a3a" stroke-width="1"/>
<line x1="273.5" y1="89.5" x2="283.4" y2="89.5" stroke="#2a2a2a" stroke-width="2"/>
<path d="M300.3,36.3 L300.3,36.3 C300.4,38.6 300.5,47.2 300.6,50.0 C300.7,52.8 300.9,51.6 301.1,52.8 C301.3,54.0 301.3,55.6 301.7,57.0 C302.1,58.4 302.7,59.7 303.7,61.1 C304.7,62.5 306.4,63.9 307.8,65.3 C309.2,66.7 310.4,68.0 311.8,69.4 C313.2,70.8 314.6,72.2 315.9,73.6 C317.2,75.0 318.4,76.4 319.6,77.8 C320.8,79.2 322.1,80.5 323.1,81.9 C324.1,83.3 325.0,84.7 325.6,86.1 C326.2,87.5 326.9,89.1 326.7,90.3 C326.5,91.5 325.5,92.6 324.7,93.5 C323.9,94.4 322.8,95.2 322.0,95.8 C321.2,96.4 320.8,96.4 319.9,97.1 C319.0,97.8 317.7,98.8 316.4,99.7 C315.1,100.6 313.4,101.5 311.9,102.4 C310.4,103.3 308.8,104.1 307.5,105.0 C306.2,105.9 304.9,106.7 304.0,107.7 C303.1,108.7 302.3,109.9 301.8,111.2 C301.3,112.5 301.2,112.8 300.9,115.7 C300.7,118.6 300.4,126.4 300.3,128.6  L300.3,128.6 Z" fill="#1b9e77" fill-opacity="0.55" stroke="#333" stroke-width="0.7"/>
<path d="M300.3,36.3 L300.3,36.3 C300.4,37.6 300.5,42.0 300.8,44.0 C301.1,46.0 302.1,46.6 302.1,48.0 C302.2,49.4 301.2,51.1 301.1,52.6 C301.0,54.1 301.2,55.6 301.7,57.0 C302.2,58.4 302.8,59.7 303.9,61.1 C305.0,62.5 306.7,63.9 308.1,65.3 C309.5,66.7 310.8,68.0 312.2,69.4 C313.6,70.8 315.1,72.2 316.4,73.6 C317.7,75.0 319.0,76.4 320.0,77.8 C321.0,79.2 321.8,80.5 322.3,81.9 C322.8,83.3 322.8,84.7 322.8,86.1 C322.8,87.5 322.6,89.1 322.3,90.3 C322.0,91.5 321.3,92.5 320.8,93.5 C320.3,94.5 320.0,95.0 319.3,96.0 C318.6,97.0 318.0,98.5 316.8,99.7 C315.6,100.9 313.8,102.1 312.3,103.3 C310.8,104.5 309.1,105.6 307.8,106.8 C306.5,108.0 305.2,109.2 304.3,110.4 C303.4,111.6 302.6,112.7 302.1,113.9 C301.6,115.1 301.4,116.1 301.1,117.4 C300.9,118.8 300.7,120.1 300.6,122.0 C300.5,123.9 300.4,127.5 300.3,128.6  L300.3,128.6 Z" fill="#d95f02" fill-opacity="0.5" stroke="#333" stroke-width="0.7"/>
<line x1="300.3" y1="36.3" x2="300.3" y2="128.6" stroke="#444" stroke-width="1"/>
<line x1="518.1" y1="36.2" x2="518.1" y2="129.4" stroke="#b4b4b4" stroke-width="1"/>
<line x1="514.9" y1="36.2" x2="518.1" y2="36.2" stroke="#9a9a9a" stroke-width="1"/>
<text x="512.1" y="39.0" text-anchor="end" font-size="7.8" fill="#333">5</text>
<line x1="514.9" y1="59.5" x2="518.1" y2="59.5" stroke="#9a9a9a" stroke-width="1"/>
<text x="512.1" y="62.3" text-anchor="end" font-size="7.8" fill="#333">3</text>
<line x1="514.9" y1="82.8" x2="518.1" y2="82.8" stroke="#9a9a9a" stroke-width="1"/>
<text x="512.1" y="85.6" text-anchor="end" font-size="7.8" fill="#333">1</text>
<line x1="514.9" y1="106.1" x2="518.1" y2="106.1" stroke="#9a9a9a" stroke-width="1"/>
<text x="512.1" y="108.9" text-anchor="end" font-size="7.8" fill="#333">-1</text>
<line x1="514.9" y1="129.4" x2="518.1" y2="129.4" stroke="#9a9a9a" stroke-width="1"/>
<text x="512.1" y="132.2" text-anchor="end" font-size="7.8" fill="#333">-3</text>
<text transform="translate(496.4,83.1) rotate(-90) scale(0.912,1)" text-anchor="middle" font-size="10.2" fill="#2a2a2a" stroke="#2a2a2a" stroke-width="0.2">beta (stimulus – no stimulus)</text>
<circle cx="531.5" cy="39.6" r="1.7" fill="#1b9e77"/>
<circle cx="531.5" cy="58.6" r="1.7" fill="#1b9e77"/>
<circle cx="530.7" cy="63.4" r="1.7" fill="#1b9e77"/>
<circle cx="526.4" cy="67.2" r="1.7" fill="#1b9e77"/>
<circle cx="525.6" cy="72.5" r="1.7" fill="#1b9e77"/>
<circle cx="530.2" cy="74.3" r="1.7" fill="#1b9e77"/>
<circle cx="534.7" cy="72.5" r="1.7" fill="#1b9e77"/>
<circle cx="535.3" cy="75.6" r="1.7" fill="#1b9e77"/>
<circle cx="532.7" cy="76.8" r="1.7" fill="#1b9e77"/>
<circle cx="526.4" cy="79.4" r="1.7" fill="#1b9e77"/>
<circle cx="530.2" cy="79.4" r="1.7" fill="#1b9e77"/>
<circle cx="528.9" cy="81.9" r="1.7" fill="#1b9e77"/>
<circle cx="532.7" cy="81.9" r="1.7" fill="#1b9e77"/>
<circle cx="525.1" cy="84.4" r="1.7" fill="#1b9e77"/>
<circle cx="527.7" cy="85.7" r="1.7" fill="#1b9e77"/>
<circle cx="531.5" cy="85.7" r="1.7" fill="#1b9e77"/>
<circle cx="534.0" cy="87.0" r="1.7" fill="#1b9e77"/>
<circle cx="526.4" cy="88.2" r="1.7" fill="#1b9e77"/>
<circle cx="530.2" cy="89.5" r="1.7" fill="#1b9e77"/>
<circle cx="525.1" cy="90.8" r="1.7" fill="#1b9e77"/>
<circle cx="534.0" cy="90.8" r="1.7" fill="#1b9e77"/>
<circle cx="528.9" cy="92.0" r="1.7" fill="#1b9e77"/>
<circle cx="532.2" cy="93.3" r="1.7" fill="#1b9e77"/>
<circle cx="525.6" cy="94.6" r="1.7" fill="#1b9e77"/>
<circle cx="534.7" cy="95.3" r="1.7" fill="#1b9e77"/>
<circle cx="528.9" cy="98.4" r="1.7" fill="#1b9e77"/>
<circle cx="531.5" cy="99.6" r="1.7" fill="#1b9e77"/>
<circle cx="533.2" cy="102.7" r="1.7" fill="#1b9e77"/>
<circle cx="526.4" cy="113.5" r="1.7" fill="#1b9e77"/>
<circle cx="536.5" cy="119.1" r="1.7" fill="#1b9e77"/>
<circle cx="588.8" cy="64.5" r="1.7" fill="#d95f02"/>
<circle cx="581.2" cy="69.8" r="1.7" fill="#d95f02"/>
<circle cx="586.2" cy="72.2" r="1.7" fill="#d95f02"/>
<circle cx="580.2" cy="76.3" r="1.7" fill="#d95f02"/>
<circle cx="585.2" cy="76.7" r="1.7" fill="#d95f02"/>
<circle cx="581.2" cy="79.3" r="1.7" fill="#d95f02"/>
<circle cx="583.2" cy="81.3" r="1.7" fill="#d95f02"/>
<circle cx="587.6" cy="80.7" r="1.7" fill="#d95f02"/>
<circle cx="589.2" cy="83.3" r="1.7" fill="#d95f02"/>
<circle cx="580.2" cy="85.4" r="1.7" fill="#d95f02"/>
<circle cx="585.2" cy="84.3" r="1.7" fill="#d95f02"/>
<circle cx="583.2" cy="87.4" r="1.7" fill="#d95f02"/>
<circle cx="588.2" cy="86.8" r="1.7" fill="#d95f02"/>
<circle cx="584.2" cy="89.4" r="1.7" fill="#d95f02"/>
<circle cx="580.2" cy="91.4" r="1.7" fill="#d95f02"/>
<circle cx="586.2" cy="91.4" r="1.7" fill="#d95f02"/>
<circle cx="582.2" cy="93.4" r="1.7" fill="#d95f02"/>
<circle cx="588.2" cy="93.4" r="1.7" fill="#d95f02"/>
<circle cx="581.2" cy="95.5" r="1.7" fill="#d95f02"/>
<circle cx="585.2" cy="95.5" r="1.7" fill="#d95f02"/>
<circle cx="588.2" cy="96.9" r="1.7" fill="#d95f02"/>
<circle cx="582.8" cy="99.5" r="1.7" fill="#d95f02"/>
<circle cx="583.6" cy="105.6" r="1.7" fill="#d95f02"/>
<circle cx="583.2" cy="107.6" r="1.7" fill="#d95f02"/>
<circle cx="585.2" cy="114.6" r="1.7" fill="#d95f02"/>
<circle cx="586.8" cy="119.1" r="1.7" fill="#d95f02"/>
<circle cx="585.6" cy="122.3" r="1.7" fill="#d95f02"/>
<line x1="611.1" y1="58.7" x2="611.1" y2="113.6" stroke="#3a3a3a" stroke-width="1"/>
<line x1="608.3" y1="58.7" x2="614.0" y2="58.7" stroke="#3a3a3a" stroke-width="1.2"/>
<line x1="608.3" y1="113.6" x2="614.0" y2="113.6" stroke="#3a3a3a" stroke-width="1.2"/>
<rect x="605.9" y="77.8" width="10.5" height="14.5" fill="#1b9e77" stroke="#3a3a3a" stroke-width="1"/>
<line x1="605.9" y1="86.8" x2="616.4" y2="86.8" stroke="#2a2a2a" stroke-width="2"/>
<line x1="632.8" y1="64.6" x2="632.8" y2="114.7" stroke="#3a3a3a" stroke-width="1"/>
<line x1="629.9" y1="64.6" x2="635.6" y2="64.6" stroke="#3a3a3a" stroke-width="1.2"/>
<line x1="629.9" y1="114.7" x2="635.6" y2="114.7" stroke="#3a3a3a" stroke-width="1.2"/>
<rect x="627.6" y="82.3" width="10.4" height="12.5" fill="#d95f02" stroke="#3a3a3a" stroke-width="1"/>
<line x1="627.6" y1="88.7" x2="638.0" y2="88.7" stroke="#2a2a2a" stroke-width="2"/>
<path d="M654.6,36.3 L654.6,36.3 C654.7,39.2 655.0,50.9 655.1,54.0 C655.2,57.1 655.1,54.3 655.4,55.1 C655.7,55.9 656.2,57.3 656.8,58.8 C657.5,60.2 658.3,62.1 659.3,63.8 C660.3,65.5 661.5,67.0 662.8,68.7 C664.1,70.4 665.8,72.2 667.3,73.7 C668.8,75.2 670.5,76.4 671.7,77.4 C672.9,78.4 673.9,79.1 674.6,79.9 C675.3,80.7 675.5,81.6 675.9,82.4 C676.3,83.2 676.7,83.9 676.9,84.9 C677.1,85.9 676.8,87.4 676.9,88.6 C677.0,89.8 678.0,91.3 677.6,92.3 C677.2,93.3 675.9,94.0 674.6,94.8 C673.3,95.6 671.3,96.5 669.6,97.3 C667.9,98.1 666.1,98.8 664.6,99.8 C663.1,100.8 661.4,102.1 660.3,103.5 C659.2,104.9 658.4,106.8 657.8,108.4 C657.2,110.1 657.1,111.7 656.8,113.4 C656.5,115.1 656.4,116.8 656.1,118.4 C655.9,120.1 655.6,121.5 655.3,123.3 C655.1,125.1 654.7,128.2 654.6,129.2  L654.6,129.2 Z" fill="#1b9e77" fill-opacity="0.55" stroke="#333" stroke-width="0.7"/>
<path d="M654.6,36.3 L654.6,36.3 C654.7,39.2 654.8,50.2 655.0,54.0 C655.2,57.8 655.6,57.2 656.1,58.8 C656.6,60.4 657.2,62.1 658.1,63.8 C659.0,65.5 660.3,67.0 661.6,68.7 C662.9,70.4 664.4,72.2 666.0,73.7 C667.6,75.2 669.6,76.4 671.0,77.4 C672.4,78.4 673.7,79.1 674.6,79.9 C675.5,80.7 676.4,81.6 676.6,82.4 C676.8,83.2 675.3,83.9 675.6,84.9 C675.9,85.9 677.6,87.4 678.4,88.6 C679.2,89.8 680.2,91.3 680.2,92.3 C680.2,93.3 679.5,94.0 678.4,94.8 C677.3,95.6 675.4,96.5 673.5,97.3 C671.6,98.1 669.2,98.8 667.3,99.8 C665.4,100.8 663.1,102.1 661.8,103.5 C660.5,104.9 659.8,106.8 659.3,108.4 C658.8,110.1 658.8,111.7 658.6,113.4 C658.4,115.1 658.4,116.8 658.1,118.4 C657.8,120.1 657.3,121.6 656.8,123.3 C656.3,125.0 655.5,127.3 655.1,128.3 C654.7,129.3 654.7,129.0 654.6,129.2  L654.6,129.2 Z" fill="#d95f02" fill-opacity="0.5" stroke="#333" stroke-width="0.7"/>
<line x1="654.6" y1="36.3" x2="654.6" y2="129.2" stroke="#444" stroke-width="1"/>
<line x1="162.1" y1="258.5" x2="162.1" y2="351.5" stroke="#b4b4b4" stroke-width="1"/>
<line x1="158.9" y1="258.5" x2="162.1" y2="258.5" stroke="#9a9a9a" stroke-width="1"/>
<text x="156.1" y="261.3" text-anchor="end" font-size="7.8" fill="#333">5</text>
<line x1="158.9" y1="281.8" x2="162.1" y2="281.8" stroke="#9a9a9a" stroke-width="1"/>
<text x="156.1" y="284.6" text-anchor="end" font-size="7.8" fill="#333">3</text>
<line x1="158.9" y1="305.0" x2="162.1" y2="305.0" stroke="#9a9a9a" stroke-width="1"/>
<text x="156.1" y="307.8" text-anchor="end" font-size="7.8" fill="#333">1</text>
<line x1="158.9" y1="328.2" x2="162.1" y2="328.2" stroke="#9a9a9a" stroke-width="1"/>
<text x="156.1" y="331.1" text-anchor="end" font-size="7.8" fill="#333">-1</text>
<line x1="158.9" y1="351.5" x2="162.1" y2="351.5" stroke="#9a9a9a" stroke-width="1"/>
<text x="156.1" y="354.3" text-anchor="end" font-size="7.8" fill="#333">-3</text>
<text transform="translate(144.1,311.5) rotate(-90) scale(0.908,1)" text-anchor="middle" font-size="10.2" fill="#2a2a2a" stroke="#2a2a2a" stroke-width="0.2">beta (stimulus – no stimulus)</text>
<circle cx="177.3" cy="277.6" r="1.7" fill="#1b9e77"/>
<circle cx="179.5" cy="288.4" r="1.7" fill="#1b9e77"/>
<circle cx="171.5" cy="293.0" r="1.7" fill="#1b9e77"/>
<circle cx="174.2" cy="296.9" r="1.7" fill="#1b9e77"/>
<circle cx="176.8" cy="297.4" r="1.7" fill="#1b9e77"/>
<circle cx="173.3" cy="300.1" r="1.7" fill="#1b9e77"/>
<circle cx="176.8" cy="301.5" r="1.7" fill="#1b9e77"/>
<circle cx="172.4" cy="303.3" r="1.7" fill="#1b9e77"/>
<circle cx="176.3" cy="304.0" r="1.7" fill="#1b9e77"/>
<circle cx="174.2" cy="307.2" r="1.7" fill="#1b9e77"/>
<circle cx="170.3" cy="308.1" r="1.7" fill="#1b9e77"/>
<circle cx="176.8" cy="308.1" r="1.7" fill="#1b9e77"/>
<circle cx="170.6" cy="309.8" r="1.7" fill="#1b9e77"/>
<circle cx="175.0" cy="309.8" r="1.7" fill="#1b9e77"/>
<circle cx="178.6" cy="310.7" r="1.7" fill="#1b9e77"/>
<circle cx="175.9" cy="312.1" r="1.7" fill="#1b9e77"/>
<circle cx="179.5" cy="312.5" r="1.7" fill="#1b9e77"/>
<circle cx="169.7" cy="313.7" r="1.7" fill="#1b9e77"/>
<circle cx="174.2" cy="314.2" r="1.7" fill="#1b9e77"/>
<circle cx="177.7" cy="315.1" r="1.7" fill="#1b9e77"/>
<circle cx="180.9" cy="316.0" r="1.7" fill="#1b9e77"/>
<circle cx="175.0" cy="316.4" r="1.7" fill="#1b9e77"/>
<circle cx="176.8" cy="317.4" r="1.7" fill="#1b9e77"/>
<circle cx="169.7" cy="318.1" r="1.7" fill="#1b9e77"/>
<circle cx="179.1" cy="318.7" r="1.7" fill="#1b9e77"/>
<circle cx="173.3" cy="319.9" r="1.7" fill="#1b9e77"/>
<circle cx="176.8" cy="320.4" r="1.7" fill="#1b9e77"/>
<circle cx="172.4" cy="321.7" r="1.7" fill="#1b9e77"/>
<circle cx="177.7" cy="321.7" r="1.7" fill="#1b9e77"/>
<circle cx="172.7" cy="323.1" r="1.7" fill="#1b9e77"/>
<circle cx="174.2" cy="326.3" r="1.7" fill="#1b9e77"/>
<circle cx="172.4" cy="327.5" r="1.7" fill="#1b9e77"/>
<circle cx="231.3" cy="294.0" r="1.7" fill="#d95f02"/>
<circle cx="223.1" cy="299.4" r="1.7" fill="#d95f02"/>
<circle cx="224.8" cy="301.3" r="1.7" fill="#d95f02"/>
<circle cx="233.0" cy="303.8" r="1.7" fill="#d95f02"/>
<circle cx="230.5" cy="304.6" r="1.7" fill="#d95f02"/>
<circle cx="226.4" cy="305.5" r="1.7" fill="#d95f02"/>
<circle cx="224.0" cy="307.1" r="1.7" fill="#d95f02"/>
<circle cx="231.3" cy="307.1" r="1.7" fill="#d95f02"/>
<circle cx="228.1" cy="307.9" r="1.7" fill="#d95f02"/>
<circle cx="225.6" cy="309.6" r="1.7" fill="#d95f02"/>
<circle cx="229.7" cy="309.6" r="1.7" fill="#d95f02"/>
<circle cx="233.0" cy="309.6" r="1.7" fill="#d95f02"/>
<circle cx="224.0" cy="311.5" r="1.7" fill="#d95f02"/>
<circle cx="228.1" cy="311.2" r="1.7" fill="#d95f02"/>
<circle cx="231.3" cy="312.0" r="1.7" fill="#d95f02"/>
<circle cx="233.8" cy="312.5" r="1.7" fill="#d95f02"/>
<circle cx="224.8" cy="314.5" r="1.7" fill="#d95f02"/>
<circle cx="230.5" cy="315.3" r="1.7" fill="#d95f02"/>
<circle cx="224.0" cy="316.9" r="1.7" fill="#d95f02"/>
<circle cx="231.3" cy="316.9" r="1.7" fill="#d95f02"/>
<circle cx="224.8" cy="319.4" r="1.7" fill="#d95f02"/>
<circle cx="229.7" cy="320.7" r="1.7" fill="#d95f02"/>
<circle cx="224.0" cy="322.4" r="1.7" fill="#d95f02"/>
<circle cx="223.1" cy="324.3" r="1.7" fill="#d95f02"/>
<circle cx="230.5" cy="325.2" r="1.7" fill="#d95f02"/>
<circle cx="223.1" cy="326.8" r="1.7" fill="#d95f02"/>
<circle cx="229.4" cy="335.5" r="1.7" fill="#d95f02"/>
<circle cx="233.3" cy="334.2" r="1.7" fill="#d95f02"/>
<line x1="255.2" y1="296.4" x2="255.2" y2="327.3" stroke="#3a3a3a" stroke-width="1"/>
<line x1="252.6" y1="296.4" x2="257.9" y2="296.4" stroke="#3a3a3a" stroke-width="1.2"/>
<line x1="252.6" y1="327.3" x2="257.9" y2="327.3" stroke="#3a3a3a" stroke-width="1.2"/>
<rect x="250.4" y="308.1" width="9.7" height="7.9" fill="#1b9e77" stroke="#3a3a3a" stroke-width="1"/>
<line x1="250.4" y1="310.4" x2="260.1" y2="310.4" stroke="#2a2a2a" stroke-width="2"/>
<line x1="276.6" y1="299.4" x2="276.6" y2="326.5" stroke="#3a3a3a" stroke-width="1"/>
<line x1="273.9" y1="299.4" x2="279.4" y2="299.4" stroke="#3a3a3a" stroke-width="1.2"/>
<line x1="273.9" y1="326.5" x2="279.4" y2="326.5" stroke="#3a3a3a" stroke-width="1.2"/>
<rect x="271.6" y="308.1" width="10.1" height="7.5" fill="#d95f02" stroke="#3a3a3a" stroke-width="1"/>
<line x1="271.6" y1="310.4" x2="281.7" y2="310.4" stroke="#2a2a2a" stroke-width="2"/>
<path d="M298.1,269.6 L298.1,269.6 C298.3,270.2 298.8,271.9 299.1,273.0 C299.4,274.1 299.9,275.0 299.9,276.0 C299.9,277.0 299.0,278.0 298.9,279.0 C298.9,280.0 299.6,280.9 299.6,282.0 C299.6,283.1 298.9,284.4 299.1,285.7 C299.3,287.0 300.1,288.5 300.6,289.9 C301.1,291.3 301.2,292.6 302.0,294.0 C302.8,295.4 304.2,296.9 305.1,298.1 C306.0,299.3 305.8,300.2 307.2,301.2 C308.6,302.2 311.3,303.2 313.4,304.3 C315.5,305.4 318.4,306.6 319.6,307.5 C320.8,308.4 320.7,308.8 320.7,309.5 C320.7,310.2 320.3,310.7 319.6,311.6 C318.9,312.5 318.1,313.7 316.7,314.7 C315.3,315.7 313.3,316.8 311.4,317.8 C309.5,318.8 306.8,319.7 305.1,320.9 C303.4,322.1 302.0,323.7 301.0,325.1 C300.0,326.5 299.7,327.9 299.3,329.2 C298.9,330.5 298.9,330.6 298.7,333.0 C298.5,335.4 298.2,341.8 298.1,343.5  L298.1,343.5 Z" fill="#1b9e77" fill-opacity="0.55" stroke="#333" stroke-width="0.7"/>
<path d="M298.1,269.6 L298.1,269.6 C298.2,270.7 298.5,273.3 298.6,276.0 C298.7,278.7 298.7,283.4 298.9,285.7 C299.1,288.0 299.5,288.5 299.8,289.9 C300.1,291.3 300.3,292.6 301.0,294.0 C301.7,295.4 302.9,296.9 304.1,298.1 C305.3,299.3 306.3,300.2 308.2,301.2 C310.1,302.2 313.1,303.2 315.5,304.3 C317.9,305.4 321.2,306.6 322.7,307.5 C324.3,308.4 325.0,308.8 324.8,309.5 C324.6,310.2 323.4,310.7 321.7,311.6 C320.0,312.5 316.6,313.7 314.5,314.7 C312.4,315.7 311.0,316.8 309.3,317.8 C307.6,318.8 305.5,319.7 304.1,320.9 C302.7,322.1 301.8,323.7 301.0,325.1 C300.2,326.5 299.7,328.0 299.6,329.2 C299.5,330.4 300.4,331.4 300.6,332.3 C300.8,333.2 300.9,333.8 300.8,334.5 C300.7,335.2 300.3,335.2 299.9,336.4 C299.5,337.6 298.7,340.4 298.4,341.6 C298.1,342.8 298.2,343.2 298.1,343.5  L298.1,343.5 Z" fill="#d95f02" fill-opacity="0.5" stroke="#333" stroke-width="0.7"/>
<line x1="298.1" y1="269.6" x2="298.1" y2="343.5" stroke="#444" stroke-width="1"/>
<line x1="520.3" y1="258.3" x2="520.3" y2="351.7" stroke="#b4b4b4" stroke-width="1"/>
<line x1="517.1" y1="258.3" x2="520.3" y2="258.3" stroke="#9a9a9a" stroke-width="1"/>
<text x="514.3" y="261.1" text-anchor="end" font-size="7.8" fill="#333">5</text>
<line x1="517.1" y1="281.6" x2="520.3" y2="281.6" stroke="#9a9a9a" stroke-width="1"/>
<text x="514.3" y="284.4" text-anchor="end" font-size="7.8" fill="#333">3</text>
<line x1="517.1" y1="305.0" x2="520.3" y2="305.0" stroke="#9a9a9a" stroke-width="1"/>
<text x="514.3" y="307.8" text-anchor="end" font-size="7.8" fill="#333">1</text>
<line x1="517.1" y1="328.4" x2="520.3" y2="328.4" stroke="#9a9a9a" stroke-width="1"/>
<text x="514.3" y="331.2" text-anchor="end" font-size="7.8" fill="#333">-1</text>
<line x1="517.1" y1="351.7" x2="520.3" y2="351.7" stroke="#9a9a9a" stroke-width="1"/>
<text x="514.3" y="354.5" text-anchor="end" font-size="7.8" fill="#333">-3</text>
<text transform="translate(501.2,306.2) rotate(-90) scale(0.911,1)" text-anchor="middle" font-size="10.2" fill="#2a2a2a" stroke="#2a2a2a" stroke-width="0.2">beta (stimulus – no stimulus)</text>
<circle cx="529.7" cy="285.0" r="1.7" fill="#1b9e77"/>
<circle cx="531.5" cy="283.8" r="1.7" fill="#1b9e77"/>
<circle cx="537.3" cy="284.5" r="1.7" fill="#1b9e77"/>
<circle cx="535.6" cy="292.1" r="1.7" fill="#1b9e77"/>
<circle cx="530.6" cy="294.8" r="1.7" fill="#1b9e77"/>
<circle cx="528.8" cy="296.5" r="1.7" fill="#1b9e77"/>
<circle cx="535.0" cy="296.5" r="1.7" fill="#1b9e77"/>
<circle cx="529.7" cy="299.2" r="1.7" fill="#1b9e77"/>
<circle cx="535.9" cy="299.7" r="1.7" fill="#1b9e77"/>
<circle cx="532.4" cy="302.2" r="1.7" fill="#1b9e77"/>
<circle cx="534.2" cy="303.6" r="1.7" fill="#1b9e77"/>
<circle cx="537.7" cy="306.3" r="1.7" fill="#1b9e77"/>
<circle cx="536.8" cy="308.1" r="1.7" fill="#1b9e77"/>
<circle cx="528.8" cy="310.4" r="1.7" fill="#1b9e77"/>
<circle cx="533.3" cy="309.8" r="1.7" fill="#1b9e77"/>
<circle cx="538.6" cy="310.7" r="1.7" fill="#1b9e77"/>
<circle cx="530.6" cy="312.5" r="1.7" fill="#1b9e77"/>
<circle cx="535.0" cy="312.1" r="1.7" fill="#1b9e77"/>
<circle cx="536.8" cy="314.2" r="1.7" fill="#1b9e77"/>
<circle cx="528.8" cy="315.1" r="1.7" fill="#1b9e77"/>
<circle cx="533.3" cy="316.0" r="1.7" fill="#1b9e77"/>
<circle cx="537.7" cy="316.9" r="1.7" fill="#1b9e77"/>
<circle cx="531.5" cy="317.8" r="1.7" fill="#1b9e77"/>
<circle cx="535.9" cy="318.7" r="1.7" fill="#1b9e77"/>
<circle cx="528.0" cy="319.9" r="1.7" fill="#1b9e77"/>
<circle cx="537.7" cy="320.4" r="1.7" fill="#1b9e77"/>
<circle cx="538.6" cy="322.7" r="1.7" fill="#1b9e77"/>
<circle cx="529.7" cy="325.8" r="1.7" fill="#1b9e77"/>
<circle cx="532.7" cy="325.4" r="1.7" fill="#1b9e77"/>
<circle cx="537.7" cy="324.0" r="1.7" fill="#1b9e77"/>
<circle cx="582.7" cy="285.1" r="1.7" fill="#d95f02"/>
<circle cx="582.3" cy="289.1" r="1.7" fill="#d95f02"/>
<circle cx="591.5" cy="287.0" r="1.7" fill="#d95f02"/>
<circle cx="583.6" cy="297.6" r="1.7" fill="#d95f02"/>
<circle cx="581.8" cy="300.6" r="1.7" fill="#d95f02"/>
<circle cx="585.3" cy="301.9" r="1.7" fill="#d95f02"/>
<circle cx="588.0" cy="303.3" r="1.7" fill="#d95f02"/>
<circle cx="591.5" cy="304.7" r="1.7" fill="#d95f02"/>
<circle cx="582.7" cy="305.0" r="1.7" fill="#d95f02"/>
<circle cx="586.2" cy="306.4" r="1.7" fill="#d95f02"/>
<circle cx="591.5" cy="308.2" r="1.7" fill="#d95f02"/>
<circle cx="581.8" cy="309.5" r="1.7" fill="#d95f02"/>
<circle cx="585.3" cy="310.0" r="1.7" fill="#d95f02"/>
<circle cx="588.9" cy="312.1" r="1.7" fill="#d95f02"/>
<circle cx="592.4" cy="313.9" r="1.7" fill="#d95f02"/>
<circle cx="581.8" cy="314.2" r="1.7" fill="#d95f02"/>
<circle cx="584.4" cy="315.6" r="1.7" fill="#d95f02"/>
<circle cx="589.7" cy="316.5" r="1.7" fill="#d95f02"/>
<circle cx="582.7" cy="317.4" r="1.7" fill="#d95f02"/>
<circle cx="588.9" cy="318.8" r="1.7" fill="#d95f02"/>
<circle cx="591.5" cy="320.6" r="1.7" fill="#d95f02"/>
<circle cx="582.7" cy="321.3" r="1.7" fill="#d95f02"/>
<circle cx="588.0" cy="321.3" r="1.7" fill="#d95f02"/>
<circle cx="581.8" cy="325.4" r="1.7" fill="#d95f02"/>
<circle cx="591.5" cy="325.4" r="1.7" fill="#d95f02"/>
<circle cx="588.9" cy="328.0" r="1.7" fill="#d95f02"/>
<circle cx="585.8" cy="331.9" r="1.7" fill="#d95f02"/>
<line x1="613.6" y1="284.2" x2="613.6" y2="325.7" stroke="#3a3a3a" stroke-width="1"/>
<line x1="610.9" y1="284.2" x2="616.2" y2="284.2" stroke="#3a3a3a" stroke-width="1.2"/>
<line x1="610.9" y1="325.7" x2="616.2" y2="325.7" stroke="#3a3a3a" stroke-width="1.2"/>
<rect x="608.8" y="302.4" width="9.6" height="13.6" fill="#1b9e77" stroke="#3a3a3a" stroke-width="1"/>
<line x1="608.8" y1="309.8" x2="618.4" y2="309.8" stroke="#2a2a2a" stroke-width="2"/>
<line x1="635.0" y1="285.2" x2="635.0" y2="332.1" stroke="#3a3a3a" stroke-width="1"/>
<line x1="632.3" y1="285.2" x2="637.8" y2="285.2" stroke="#3a3a3a" stroke-width="1.2"/>
<line x1="632.3" y1="332.1" x2="637.8" y2="332.1" stroke="#3a3a3a" stroke-width="1.2"/>
<rect x="630.0" y="303.4" width="10.1" height="12.6" fill="#d95f02" stroke="#3a3a3a" stroke-width="1"/>
<line x1="630.0" y1="309.5" x2="640.1" y2="309.5" stroke="#2a2a2a" stroke-width="2"/>
<path d="M656.4,270.1 L656.4,270.1 C656.6,271.0 657.2,273.5 657.9,275.2 C658.6,276.9 659.5,278.6 660.4,280.3 C661.3,282.0 662.3,283.6 663.4,285.3 C664.5,287.0 665.8,288.7 667.2,290.4 C668.5,292.1 670.3,293.9 671.5,295.4 C672.7,296.9 673.3,297.9 674.4,299.2 C675.5,300.5 676.8,301.8 677.9,303.0 C679.0,304.2 680.0,305.4 680.9,306.7 C681.8,307.9 683.1,309.2 683.1,310.5 C683.1,311.8 681.8,313.0 680.6,314.3 C679.4,315.6 677.8,316.8 676.1,318.1 C674.4,319.4 672.5,320.6 670.5,321.9 C668.5,323.2 666.2,324.2 664.4,325.7 C662.6,327.2 661.0,329.0 659.9,330.7 C658.8,332.4 658.4,334.1 657.9,335.8 C657.4,337.5 657.2,339.5 657.0,340.8 C656.8,342.1 656.5,343.1 656.4,343.5  L656.4,343.5 Z" fill="#1b9e77" fill-opacity="0.55" stroke="#333" stroke-width="0.7"/>
<path d="M656.4,270.1 L656.4,270.1 C656.5,271.0 656.8,273.5 657.2,275.2 C657.6,276.9 658.3,278.6 659.0,280.3 C659.7,282.0 660.6,283.6 661.6,285.3 C662.6,287.0 663.8,288.7 665.2,290.4 C666.6,292.1 668.1,293.9 669.9,295.4 C671.7,296.9 674.3,297.9 676.1,299.2 C677.9,300.5 679.4,301.8 680.6,303.0 C681.8,304.2 683.0,305.4 683.1,306.7 C683.2,307.9 682.4,309.2 681.4,310.5 C680.4,311.8 678.7,313.0 677.4,314.3 C676.1,315.6 674.8,316.8 673.4,318.1 C672.0,319.4 670.2,320.6 668.9,321.9 C667.6,323.2 666.8,324.2 665.5,325.7 C664.2,327.2 662.0,329.0 660.9,330.7 C659.8,332.4 659.5,334.1 658.9,335.8 C658.3,337.5 657.8,339.5 657.4,340.8 C657.0,342.1 656.6,343.1 656.4,343.5  L656.4,343.5 Z" fill="#d95f02" fill-opacity="0.5" stroke="#333" stroke-width="0.7"/>
<line x1="656.4" y1="270.1" x2="656.4" y2="343.5" stroke="#444" stroke-width="1"/>
<rect x="181.4" y="187.1" width="22" height="25.8" fill="#3fb987"/>
<rect x="446.4" y="184.9" width="22.2" height="25.7" fill="#ed7d31"/>
<text x="209" y="206.6" font-size="16.7" fill="#1a1a1a">low load</text>
<text x="474.6" y="204.4" font-size="16.7" fill="#1a1a1a">high load</text>
<g font-weight="bold" font-size="12" fill="#1a1a1a" stroke="#1a1a1a" stroke-width="0.25">
<text x="0.5" y="14.9">SI, hand area</text>
<text x="339.6" y="10.4">SI, operculum</text>
<text x="0.5" y="236.5">SII, ipsilateral</text>
<text x="343.9" y="234.8">SII, contralateral</text>
<text x="10.2" y="160.7">y = -31</text>
<text x="344.8" y="149.7">y = -18</text>
<text x="14.4" y="384.1">y = -24</text>
<text x="344" y="390.7">y = -21</text>
</g>
</svg>
</body></html>
